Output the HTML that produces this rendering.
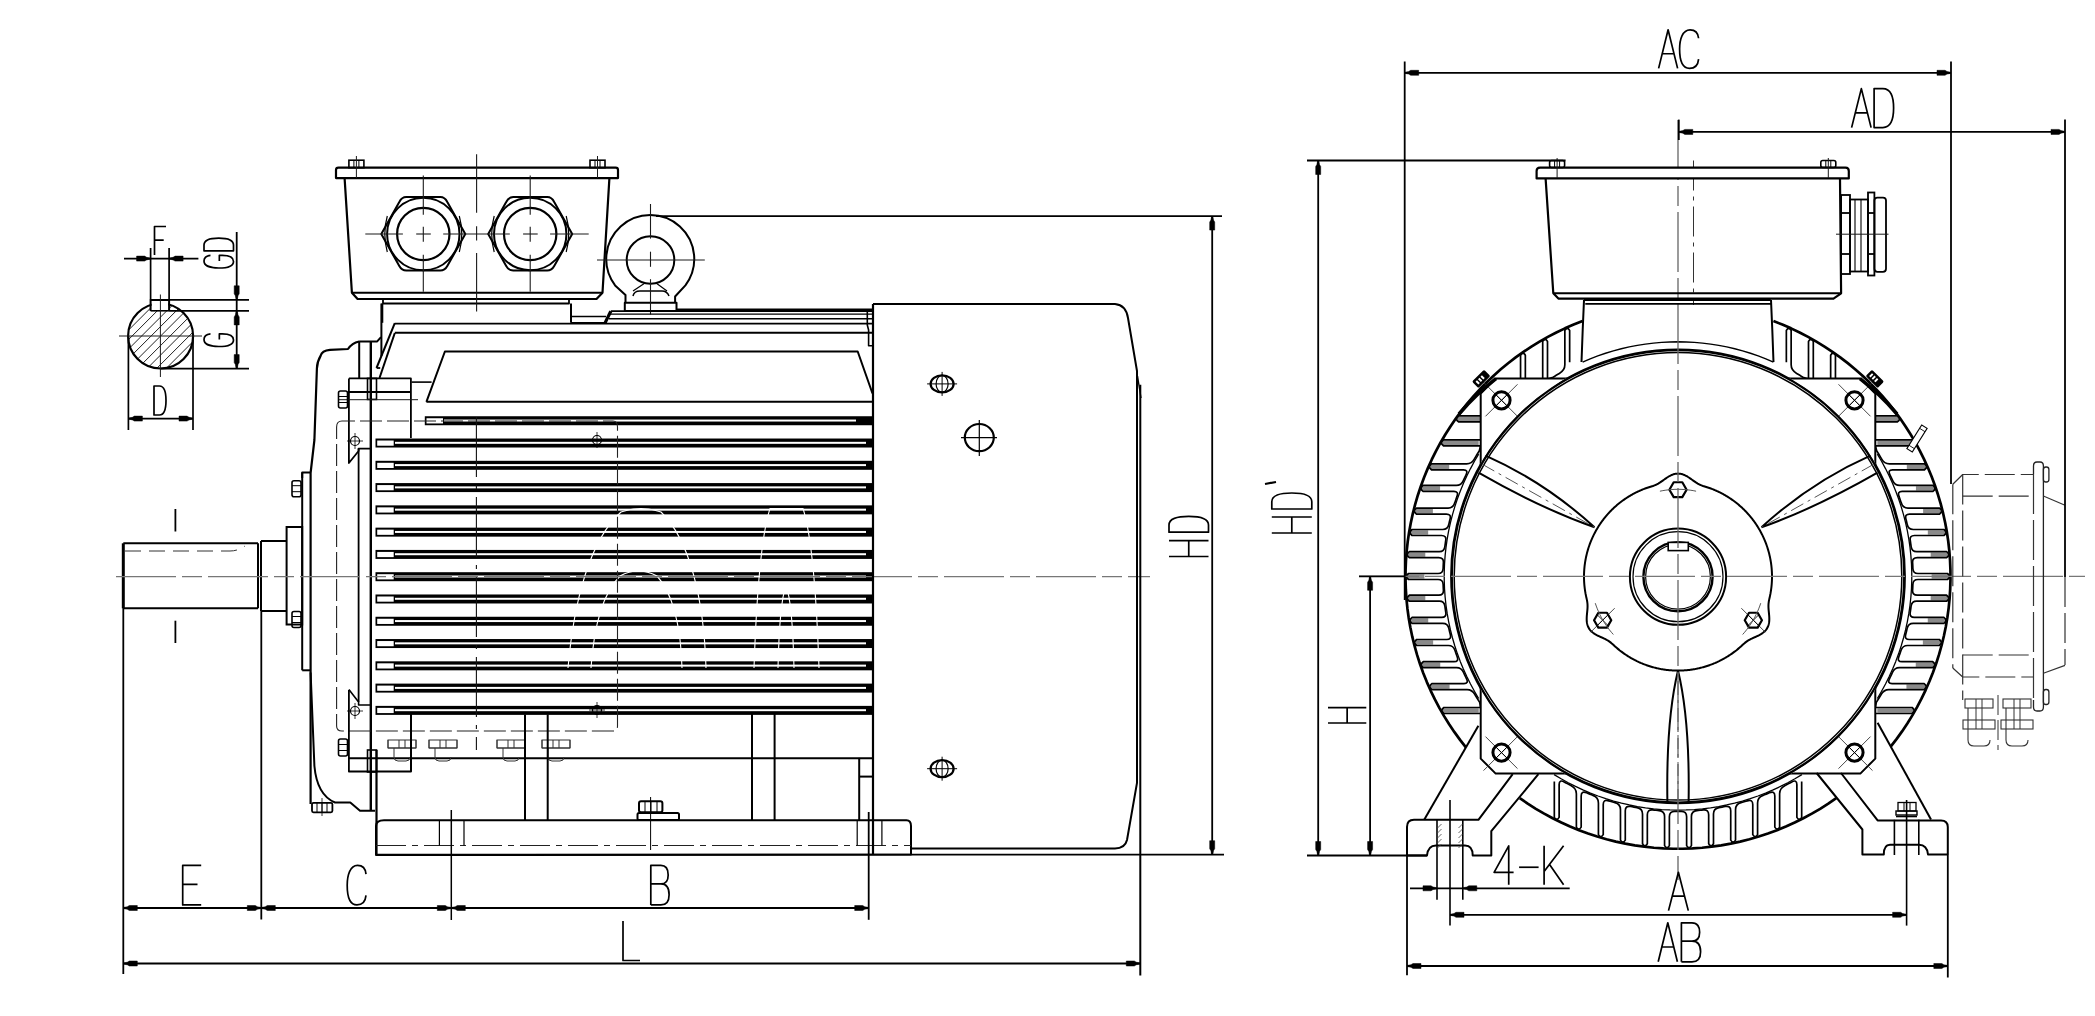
<!DOCTYPE html>
<html><head><meta charset="utf-8"><title>Motor outline drawing</title>
<style>
html,body{margin:0;padding:0;background:#fff;width:2095px;height:1016px;overflow:hidden;font-family:"Liberation Sans",sans-serif;}
svg{display:block;}
</style></head><body>
<svg width="2095" height="1016" viewBox="0 0 2095 1016" shape-rendering="auto"><defs><clipPath id="kc"><circle cx="160.6" cy="336" r="32.5"/></clipPath></defs>
<g clip-path="url(#kc)"><path d="M15.1,396 L135.1,276 M24.6,396 L144.6,276 M34.1,396 L154.1,276 M43.6,396 L163.6,276 M53.1,396 L173.1,276 M62.6,396 L182.6,276 M72.1,396 L192.1,276 M81.6,396 L201.6,276 M91.1,396 L211.1,276 M100.6,396 L220.6,276 M110.1,396 L230.1,276 M119.6,396 L239.6,276 M129.1,396 L249.1,276 M138.6,396 L258.6,276 M148.1,396 L268.1,276 M157.6,396 L277.6,276 M167.1,396 L287.1,276 M176.6,396 L296.6,276 M186.1,396 L306.1,276" stroke="#222" stroke-width="1" fill="none"/></g>
<rect x="150.6" y="299" width="18.6" height="12" fill="#fff"/>
<circle cx="160.6" cy="336" r="32.5" stroke="#000" stroke-width="2.2" fill="none"/>
<rect x="151.6" y="300.5" width="16.6" height="9.5" fill="#fff"/>
<path d="M150.6,311 L150.6,300 L169.1,300 L169.1,311" stroke="#000" stroke-width="2" fill="none" stroke-linejoin="round"/>
<line x1="150.6" y1="310.8" x2="169.1" y2="310.8" stroke="#000" stroke-width="1.6" stroke-linecap="butt"/>
<line x1="150.6" y1="248" x2="150.6" y2="300" stroke="#000" stroke-width="1.7" stroke-linecap="butt"/>
<line x1="169.1" y1="248" x2="169.1" y2="300" stroke="#000" stroke-width="1.7" stroke-linecap="butt"/>
<line x1="124" y1="258.6" x2="198.4" y2="258.6" stroke="#000" stroke-width="1.7" stroke-linecap="butt"/>
<path d="M150.1,258 L150.1,258 L146.6,257.3 L144.6,256.1 L136.6,256.1 L136.6,261.1 L144.6,261.1 L146.6,259.9 L150.1,259.2 L150.1,259.2 Z" stroke="#000" stroke-width="0.5" fill="#000" stroke-linejoin="round"/>
<path d="M169.6,258 L169.6,258 L173.1,257.3 L175.1,256.1 L183.1,256.1 L183.1,261.1 L175.1,261.1 L173.1,259.9 L169.6,259.2 L169.6,259.2 Z" stroke="#000" stroke-width="0.5" fill="#000" stroke-linejoin="round"/>
<g transform="translate(154.5,226.5)" fill="none" stroke="#000" stroke-width="1.7" stroke-linejoin="round"><path d="M1,0 L0,0 L0,1 M0,0.48 L0.8,0.48" transform="translate(0,0) scale(11.5,28.5)" vector-effect="non-scaling-stroke"/></g>
<line x1="150.6" y1="299.8" x2="249" y2="299.8" stroke="#000" stroke-width="1.8" stroke-linecap="butt"/>
<line x1="169.1" y1="310.9" x2="249" y2="310.9" stroke="#000" stroke-width="1.8" stroke-linecap="butt"/>
<line x1="160" y1="368.6" x2="249" y2="368.6" stroke="#000" stroke-width="1.8" stroke-linecap="butt"/>
<line x1="236.7" y1="232" x2="236.7" y2="368.6" stroke="#000" stroke-width="1.8" stroke-linecap="butt"/>
<path d="M236.1,299.3 L236.1,299.3 L235.4,295.8 L234.2,293.8 L234.2,285.8 L239.2,285.8 L239.2,293.8 L238,295.8 L237.3,299.3 L237.3,299.3 Z" stroke="#000" stroke-width="0.5" fill="#000" stroke-linejoin="round"/>
<path d="M236.1,311.4 L236.1,311.4 L235.4,314.9 L234.2,316.9 L234.2,324.9 L239.2,324.9 L239.2,316.9 L238,314.9 L237.3,311.4 L237.3,311.4 Z" stroke="#000" stroke-width="0.5" fill="#000" stroke-linejoin="round"/>
<path d="M236.1,368.1 L236.1,368.1 L235.4,364.6 L234.2,362.6 L234.2,354.6 L239.2,354.6 L239.2,362.6 L238,364.6 L237.3,368.1 L237.3,368.1 Z" stroke="#000" stroke-width="0.5" fill="#000" stroke-linejoin="round"/>
<g transform="translate(204,268) rotate(-90)" fill="none" stroke="#000" stroke-width="1.7" stroke-linejoin="round"><path d="M1,0.22 C0.97,0.06 0.8,0 0.55,0 C0.15,0 0,0.25 0,0.5 C0,0.78 0.15,1 0.52,1 C0.85,1 1,0.85 1,0.62 L1,0.52 L0.55,0.52" transform="translate(0,0) scale(12.7,29.5)" vector-effect="non-scaling-stroke"/><path d="M0,0 L0,1 L0.45,1 C0.85,1 1,0.8 1,0.5 C1,0.2 0.85,0 0.45,0 Z" transform="translate(17.2,0) scale(12.7,29.5)" vector-effect="non-scaling-stroke"/></g>
<g transform="translate(204,346.5) rotate(-90)" fill="none" stroke="#000" stroke-width="1.7" stroke-linejoin="round"><path d="M1,0.22 C0.97,0.06 0.8,0 0.55,0 C0.15,0 0,0.25 0,0.5 C0,0.78 0.15,1 0.52,1 C0.85,1 1,0.85 1,0.62 L1,0.52 L0.55,0.52" transform="translate(0,0) scale(12.7,29.5)" vector-effect="non-scaling-stroke"/></g>
<line x1="128.4" y1="336" x2="128.4" y2="430" stroke="#000" stroke-width="1.7" stroke-linecap="butt"/>
<line x1="193" y1="336" x2="193" y2="430" stroke="#000" stroke-width="1.7" stroke-linecap="butt"/>
<line x1="128.4" y1="418.6" x2="193" y2="418.6" stroke="#000" stroke-width="1.7" stroke-linecap="butt"/>
<path d="M128.9,418 L128.9,418 L132.4,417.3 L134.4,416.1 L142.4,416.1 L142.4,421.1 L134.4,421.1 L132.4,419.9 L128.9,419.2 L128.9,419.2 Z" stroke="#000" stroke-width="0.5" fill="#000" stroke-linejoin="round"/>
<path d="M192.5,418 L192.5,418 L189,417.3 L187,416.1 L179,416.1 L179,421.1 L187,421.1 L189,419.9 L192.5,419.2 L192.5,419.2 Z" stroke="#000" stroke-width="0.5" fill="#000" stroke-linejoin="round"/>
<g transform="translate(154,386)" fill="none" stroke="#000" stroke-width="1.7" stroke-linejoin="round"><path d="M0,0 L0,1 L0.45,1 C0.85,1 1,0.8 1,0.5 C1,0.2 0.85,0 0.45,0 Z" transform="translate(0,0) scale(12,29)" vector-effect="non-scaling-stroke"/></g>
<line x1="119" y1="336" x2="202" y2="336" stroke="#1a1a1a" stroke-width="1" stroke-linecap="butt"/>
<line x1="160.4" y1="294.5" x2="160.4" y2="377" stroke="#1a1a1a" stroke-width="1" stroke-linecap="butt"/>
<path d="M336,178.1 L336,170 Q336,167.7 338.5,167.7 L615.6,167.7 Q618,167.7 618,170 L618,178.1 Z" stroke="#000" stroke-width="2.2" fill="none" stroke-linejoin="round" />
<rect x="348.9" y="160.2" width="15" height="7.5" rx="0" stroke="#000" stroke-width="1.6" fill="none"/>
<line x1="353.9" y1="160.2" x2="353.9" y2="167.7" stroke="#000" stroke-width="1" stroke-linecap="butt"/>
<line x1="358.9" y1="160.2" x2="358.9" y2="167.7" stroke="#000" stroke-width="1" stroke-linecap="butt"/>
<line x1="356.4" y1="156" x2="356.4" y2="178" stroke="#1a1a1a" stroke-width="1" stroke-linecap="butt"/>
<rect x="590" y="160.2" width="15" height="7.5" rx="0" stroke="#000" stroke-width="1.6" fill="none"/>
<line x1="595" y1="160.2" x2="595" y2="167.7" stroke="#000" stroke-width="1" stroke-linecap="butt"/>
<line x1="600" y1="160.2" x2="600" y2="167.7" stroke="#000" stroke-width="1" stroke-linecap="butt"/>
<line x1="597.5" y1="156" x2="597.5" y2="178" stroke="#1a1a1a" stroke-width="1" stroke-linecap="butt"/>
<path d="M344.6,178.1 L351.9,292.7 L357.6,299 L596.5,299 L602.5,292.7 L609.4,178.1" stroke="#000" stroke-width="2.2" fill="none" stroke-linejoin="round"/>
<line x1="351.9" y1="292.7" x2="602.5" y2="292.7" stroke="#000" stroke-width="2" stroke-linecap="butt"/>
<path d="M383,299 L383,303.5 L569,303.5 L569,299" stroke="#000" stroke-width="1.8" fill="none" stroke-linejoin="round"/>
<path d="M382.3,303.5 L382.3,322.8" stroke="#000" stroke-width="2" fill="none" stroke-linejoin="round"/>
<path d="M571,303.5 L571,322.8" stroke="#000" stroke-width="2" fill="none" stroke-linejoin="round"/>
<path d="M381.3,234 L399.3,202 Q401.8,197 406.3,197 L440.3,197 Q444.8,197 447.3,202 L465.3,234 L447.3,266 Q444.8,270.6 440.3,270.6 L406.3,270.6 Q401.8,270.6 399.3,266 Z" stroke="#000" stroke-width="2" fill="none" stroke-linejoin="round" />
<circle cx="423.3" cy="234" r="36.2" stroke="#000" stroke-width="2" fill="none"/>
<circle cx="423.3" cy="234" r="26.2" stroke="#000" stroke-width="2.2" fill="none"/>
<path d="M387.3,216 Q382.3,234 387.3,252" stroke="#000" stroke-width="1.2" fill="none" stroke-linejoin="round" />
<path d="M459.3,216 Q464.3,234 459.3,252" stroke="#000" stroke-width="1.2" fill="none" stroke-linejoin="round" />
<line x1="423.3" y1="175.6" x2="423.3" y2="214.8" stroke="#1a1a1a" stroke-width="1.1" stroke-linecap="butt"/>
<line x1="423.3" y1="226.8" x2="423.3" y2="241.8" stroke="#1a1a1a" stroke-width="1.1" stroke-linecap="butt"/>
<line x1="423.3" y1="254.7" x2="423.3" y2="291.7" stroke="#1a1a1a" stroke-width="1.1" stroke-linecap="butt"/>
<path d="M488.2,234 L506.2,202 Q508.7,197 513.2,197 L547.2,197 Q551.7,197 554.2,202 L572.2,234 L554.2,266 Q551.7,270.6 547.2,270.6 L513.2,270.6 Q508.7,270.6 506.2,266 Z" stroke="#000" stroke-width="2" fill="none" stroke-linejoin="round" />
<circle cx="530.2" cy="234" r="36.2" stroke="#000" stroke-width="2" fill="none"/>
<circle cx="530.2" cy="234" r="26.2" stroke="#000" stroke-width="2.2" fill="none"/>
<path d="M494.2,216 Q489.2,234 494.2,252" stroke="#000" stroke-width="1.2" fill="none" stroke-linejoin="round" />
<path d="M566.2,216 Q571.2,234 566.2,252" stroke="#000" stroke-width="1.2" fill="none" stroke-linejoin="round" />
<line x1="530.2" y1="175.6" x2="530.2" y2="214.8" stroke="#1a1a1a" stroke-width="1.1" stroke-linecap="butt"/>
<line x1="530.2" y1="226.8" x2="530.2" y2="241.8" stroke="#1a1a1a" stroke-width="1.1" stroke-linecap="butt"/>
<line x1="530.2" y1="254.7" x2="530.2" y2="291.7" stroke="#1a1a1a" stroke-width="1.1" stroke-linecap="butt"/>
<line x1="365.3" y1="234" x2="402.9" y2="234" stroke="#1a1a1a" stroke-width="1.1" stroke-linecap="butt"/>
<line x1="416.2" y1="234" x2="430.8" y2="234" stroke="#1a1a1a" stroke-width="1.1" stroke-linecap="butt"/>
<line x1="443.2" y1="234" x2="509.8" y2="234" stroke="#1a1a1a" stroke-width="1.1" stroke-linecap="butt"/>
<line x1="523.1" y1="234" x2="537.7" y2="234" stroke="#1a1a1a" stroke-width="1.1" stroke-linecap="butt"/>
<line x1="550.1" y1="234" x2="588.7" y2="234" stroke="#1a1a1a" stroke-width="1.1" stroke-linecap="butt"/>
<line x1="476.6" y1="154.2" x2="476.6" y2="212.8" stroke="#1a1a1a" stroke-width="1.1" stroke-linecap="butt"/>
<line x1="476.6" y1="226.2" x2="476.6" y2="240.4" stroke="#1a1a1a" stroke-width="1.1" stroke-linecap="butt"/>
<line x1="476.6" y1="252.9" x2="476.6" y2="311.5" stroke="#1a1a1a" stroke-width="1.1" stroke-linecap="butt"/>
<path d="M625.5,302.7 L625.5,295.1 L615.1,285.4 A44,44 0 1 1 685.4,285.4 L675.1,296.5 L675.1,302.7" stroke="#000" stroke-width="2" fill="none" stroke-linejoin="round" />
<circle cx="650.5" cy="260" r="23.8" stroke="#000" stroke-width="2" fill="none"/>
<path d="M624.8,302.7 L676.5,302.7 L676.5,311 L624.8,311 Z" stroke="#000" stroke-width="2" fill="none" stroke-linejoin="round"/>
<path d="M633,296 Q634,291 640,291 L662,291 Q667,291 669,296" stroke="#000" stroke-width="1.5" fill="none" stroke-linejoin="round" />
<path d="M645,283 L633,291 M656,283 L667,291" stroke="#000" stroke-width="1.2" fill="none" stroke-linejoin="round" />
<line x1="597" y1="260" x2="704.8" y2="260" stroke="#1a1a1a" stroke-width="1" stroke-linecap="butt"/>
<line x1="650.5" y1="204" x2="650.5" y2="238.6" stroke="#1a1a1a" stroke-width="1.1" stroke-linecap="butt"/>
<line x1="650.5" y1="251.7" x2="650.5" y2="266.8" stroke="#1a1a1a" stroke-width="1.1" stroke-linecap="butt"/>
<line x1="650.5" y1="279.2" x2="650.5" y2="314.4" stroke="#1a1a1a" stroke-width="1.1" stroke-linecap="butt"/>
<line x1="656" y1="216.1" x2="1222" y2="216.1" stroke="#000" stroke-width="1.8" stroke-linecap="butt"/>
<line x1="677" y1="309.9" x2="873" y2="309.9" stroke="#000" stroke-width="2.8" stroke-linecap="butt"/>
<line x1="610.8" y1="311.1" x2="873" y2="311.1" stroke="#000" stroke-width="1.8" stroke-linecap="butt"/>
<line x1="610" y1="314.2" x2="873" y2="314.2" stroke="#000" stroke-width="1.3" stroke-linecap="butt"/>
<line x1="609" y1="318.8" x2="873" y2="318.8" stroke="#000" stroke-width="1.4" stroke-linecap="butt"/>
<line x1="394.8" y1="323.6" x2="873" y2="323.6" stroke="#000" stroke-width="1.6" stroke-linecap="butt"/>
<line x1="394.8" y1="332.7" x2="873" y2="332.7" stroke="#000" stroke-width="1.9" stroke-linecap="butt"/>
<path d="M867.3,311 L867.3,325 L868.6,330 L868.6,345.8 L873,345.8" stroke="#000" stroke-width="1.6" fill="none" stroke-linejoin="round"/>
<path d="M604.8,323.4 L610.8,311.3" stroke="#000" stroke-width="3.2" fill="none" stroke-linejoin="round"/>
<line x1="571" y1="316.5" x2="606" y2="316.5" stroke="#000" stroke-width="1.6" stroke-linecap="butt"/>
<line x1="571" y1="322.8" x2="607" y2="322.8" stroke="#000" stroke-width="1.6" stroke-linecap="butt"/>
<path d="M394.8,323.2 L376.5,368" stroke="#000" stroke-width="2" fill="none" stroke-linejoin="round"/>
<path d="M394.8,333 L379.5,378" stroke="#000" stroke-width="2" fill="none" stroke-linejoin="round"/>
<path d="M381.4,303.5 L381.4,356" stroke="#000" stroke-width="2" fill="none" stroke-linejoin="round"/>
<line x1="376.7" y1="368" x2="380.2" y2="368" stroke="#000" stroke-width="1.8" stroke-linecap="butt"/>
<path d="M426.4,401.8 L444.9,351.5 L857.7,351.5 L872.5,393.5" stroke="#000" stroke-width="2" fill="none" stroke-linejoin="round"/>
<line x1="426.4" y1="401.8" x2="873" y2="401.8" stroke="#000" stroke-width="2" stroke-linecap="butt"/>
<rect x="375.5" y="438.52" width="497.5" height="9" fill="#000"/>
<rect x="395" y="441.82" width="471" height="2" fill="#fff"/>
<rect x="377.2" y="440.52" width="16.5" height="5.2" fill="#fff"/>
<rect x="375.5" y="460.8" width="497.5" height="9" fill="#000"/>
<rect x="395" y="464.1" width="471" height="2" fill="#fff"/>
<rect x="377.2" y="462.8" width="16.5" height="5.2" fill="#fff"/>
<rect x="375.5" y="483.08" width="497.5" height="9" fill="#000"/>
<rect x="395" y="486.38" width="471" height="2" fill="#fff"/>
<rect x="377.2" y="485.08" width="16.5" height="5.2" fill="#fff"/>
<rect x="375.5" y="505.36" width="497.5" height="9" fill="#000"/>
<rect x="395" y="508.66" width="471" height="2" fill="#fff"/>
<rect x="377.2" y="507.36" width="16.5" height="5.2" fill="#fff"/>
<rect x="375.5" y="527.64" width="497.5" height="9" fill="#000"/>
<rect x="395" y="530.94" width="471" height="2" fill="#fff"/>
<rect x="377.2" y="529.64" width="16.5" height="5.2" fill="#fff"/>
<rect x="375.5" y="549.92" width="497.5" height="9" fill="#000"/>
<rect x="395" y="553.22" width="471" height="2" fill="#fff"/>
<rect x="377.2" y="551.92" width="16.5" height="5.2" fill="#fff"/>
<rect x="375.5" y="572.2" width="497.5" height="9" fill="#000"/>
<rect x="395" y="575.5" width="471" height="2" fill="#fff"/>
<rect x="377.2" y="574.2" width="16.5" height="5.2" fill="#fff"/>
<rect x="375.5" y="594.48" width="497.5" height="9" fill="#000"/>
<rect x="395" y="597.78" width="471" height="2" fill="#fff"/>
<rect x="377.2" y="596.48" width="16.5" height="5.2" fill="#fff"/>
<rect x="375.5" y="616.76" width="497.5" height="9" fill="#000"/>
<rect x="395" y="620.06" width="471" height="2" fill="#fff"/>
<rect x="377.2" y="618.76" width="16.5" height="5.2" fill="#fff"/>
<rect x="375.5" y="639.04" width="497.5" height="9" fill="#000"/>
<rect x="395" y="642.34" width="471" height="2" fill="#fff"/>
<rect x="377.2" y="641.04" width="16.5" height="5.2" fill="#fff"/>
<rect x="375.5" y="661.32" width="497.5" height="9" fill="#000"/>
<rect x="395" y="664.62" width="471" height="2" fill="#fff"/>
<rect x="377.2" y="663.32" width="16.5" height="5.2" fill="#fff"/>
<rect x="375.5" y="683.6" width="497.5" height="9" fill="#000"/>
<rect x="395" y="686.9" width="471" height="2" fill="#fff"/>
<rect x="377.2" y="685.6" width="16.5" height="5.2" fill="#fff"/>
<rect x="375.5" y="705.88" width="497.5" height="9" fill="#000"/>
<rect x="395" y="709.18" width="471" height="2" fill="#fff"/>
<rect x="377.2" y="707.88" width="16.5" height="5.2" fill="#fff"/>
<rect x="424.8" y="416.24" width="448" height="9" fill="#000"/>
<rect x="444" y="419.54" width="412" height="2" fill="#fff"/>
<rect x="426.5" y="418.24" width="16.5" height="5.2" fill="#fff"/>
<line x1="476.4" y1="417" x2="476.4" y2="750" stroke="#111" stroke-width="1.1" stroke-dasharray="60 8 4 8" stroke-linecap="butt"/>
<path d="M568,668 C574,600 590,540 621,512 Q641,505 661,512 C690,540 704,600 706,668" stroke="#fff" stroke-width="1.1" fill="none" stroke-linejoin="round" />
<path d="M591,668 C594,625 604,592 620,576 Q638,566 657,576 C672,592 681,625 682,668" stroke="#fff" stroke-width="1.1" fill="none" stroke-linejoin="round" />
<path d="M754,668 C757,580 763,530 770,508.5 L803,508.5 C810,530 816,580 819,668" stroke="#fff" stroke-width="1.1" fill="none" stroke-linejoin="round" />
<path d="M778,668 C779,625 781,598 786,586 C791,598 793,625 794,668" stroke="#fff" stroke-width="1.1" fill="none" stroke-linejoin="round" />
<line x1="370.8" y1="341" x2="370.8" y2="811" stroke="#000" stroke-width="2.4" stroke-linecap="butt"/>
<line x1="359.2" y1="341.5" x2="359.2" y2="378.4" stroke="#000" stroke-width="2" stroke-linecap="butt"/>
<path d="M359.1,341.5 L377.2,341.4 L381,337.2" stroke="#000" stroke-width="2" fill="none" stroke-linejoin="round" />
<path d="M359.1,341.5 Q352,343 348,349 L330,349.8 Q322,350.5 320.7,355.6 Q317,362 316.9,368.4 L314.4,440 L310.6,473 L310.6,804" stroke="#000" stroke-width="2.2" fill="none" stroke-linejoin="round" />
<path d="M310.6,672.5 L314.4,766 Q317,795 335,802.5 L350.3,802.5 L360,810.8 L375,810.8" stroke="#000" stroke-width="2" fill="none" stroke-linejoin="round" />
<line x1="376.5" y1="750" x2="376.5" y2="855" stroke="#000" stroke-width="2.2" stroke-linecap="butt"/>
<path d="M348.9,378.4 L410.9,378.4 L410.9,438" stroke="#000" stroke-width="1.8" fill="none" stroke-linejoin="round"/>
<path d="M348.9,378.4 L348.9,463 L358.6,451 L358.6,448.6 L371,448.6" stroke="#000" stroke-width="1.8" fill="none" stroke-linejoin="round"/>
<line x1="358.6" y1="448.6" x2="358.6" y2="702" stroke="#000" stroke-width="1.8" stroke-linecap="butt"/>
<rect x="367.5" y="378.4" width="9" height="21" rx="0" stroke="#000" stroke-width="1.6" fill="none"/>
<line x1="349" y1="392" x2="411" y2="392" stroke="#000" stroke-width="1.8" stroke-linecap="butt"/>
<line x1="338" y1="399.7" x2="418" y2="399.7" stroke="#1a1a1a" stroke-width="1" stroke-linecap="butt"/>
<line x1="411.5" y1="382.1" x2="431.6" y2="382.1" stroke="#000" stroke-width="1.6" stroke-linecap="butt"/>
<rect x="338.5" y="391" width="9" height="17" rx="2" stroke="#000" stroke-width="1.6" fill="none"/>
<line x1="338.5" y1="396.5" x2="347.5" y2="396.5" stroke="#000" stroke-width="1" stroke-linecap="butt"/>
<line x1="338.5" y1="402.5" x2="347.5" y2="402.5" stroke="#000" stroke-width="1" stroke-linecap="butt"/>
<rect x="338.5" y="739" width="9" height="17" rx="2" stroke="#000" stroke-width="1.6" fill="none"/>
<line x1="338.5" y1="744.5" x2="347.5" y2="744.5" stroke="#000" stroke-width="1" stroke-linecap="butt"/>
<line x1="338.5" y1="750.5" x2="347.5" y2="750.5" stroke="#000" stroke-width="1" stroke-linecap="butt"/>
<rect x="312" y="802.8" width="20.4" height="9.5" rx="1.5" stroke="#000" stroke-width="1.8" fill="none"/>
<line x1="317" y1="802.8" x2="317" y2="812.3" stroke="#000" stroke-width="1" stroke-linecap="butt"/>
<line x1="322" y1="802.8" x2="322" y2="812.3" stroke="#000" stroke-width="1" stroke-linecap="butt"/>
<line x1="327" y1="802.8" x2="327" y2="812.3" stroke="#000" stroke-width="1" stroke-linecap="butt"/>
<line x1="322" y1="798" x2="322" y2="816" stroke="#000" stroke-width="0.8" stroke-linecap="butt"/>
<circle cx="355" cy="441" r="4.5" stroke="#000" stroke-width="1.2" fill="none"/>
<line x1="347" y1="441" x2="363" y2="441" stroke="#000" stroke-width="0.8" stroke-linecap="butt"/>
<line x1="355" y1="433" x2="355" y2="449" stroke="#000" stroke-width="0.8" stroke-linecap="butt"/>
<circle cx="355" cy="711" r="4.5" stroke="#000" stroke-width="1.2" fill="none"/>
<line x1="347" y1="711" x2="363" y2="711" stroke="#000" stroke-width="0.8" stroke-linecap="butt"/>
<line x1="355" y1="703" x2="355" y2="719" stroke="#000" stroke-width="0.8" stroke-linecap="butt"/>
<circle cx="597" cy="440" r="4.5" stroke="#000" stroke-width="1.2" fill="none"/>
<line x1="589" y1="440" x2="605" y2="440" stroke="#000" stroke-width="0.8" stroke-linecap="butt"/>
<line x1="597" y1="432" x2="597" y2="448" stroke="#000" stroke-width="0.8" stroke-linecap="butt"/>
<circle cx="597" cy="710" r="4.5" stroke="#000" stroke-width="1.2" fill="none"/>
<line x1="589" y1="710" x2="605" y2="710" stroke="#000" stroke-width="0.8" stroke-linecap="butt"/>
<line x1="597" y1="702" x2="597" y2="718" stroke="#000" stroke-width="0.8" stroke-linecap="butt"/>
<path d="M336.6,427 Q336.6,421 342,421 L613,421 Q617.5,421 617.5,427 L617.5,726 Q617.5,731 613,731 L342,731 Q336.6,731 336.6,726 Z" stroke="#222" stroke-width="1.1" fill="none" stroke-dasharray="22 5" stroke-linejoin="round" />
<path d="M348.9,690 L348.9,771.5 L411,771.5 L411,713.9" stroke="#000" stroke-width="1.8" fill="none" stroke-linejoin="round"/>
<path d="M348.9,689.6 L358.6,702 L358.6,705 L371,705" stroke="#000" stroke-width="1.6" fill="none" stroke-linejoin="round"/>
<line x1="349" y1="758.3" x2="873" y2="758.3" stroke="#000" stroke-width="2" stroke-linecap="butt"/>
<rect x="367.5" y="750" width="9" height="22" rx="0" stroke="#000" stroke-width="1.6" fill="none"/>
<path d="M388,740 L388,748 L416,748 L416,740" stroke="#333" stroke-width="1" fill="none" stroke-linejoin="round" />
<rect x="388" y="740" width="28" height="8" rx="0" stroke="#333" stroke-width="1" fill="none"/>
<line x1="399" y1="740" x2="399" y2="748" stroke="#333" stroke-width="1" stroke-linecap="butt"/>
<line x1="405" y1="740" x2="405" y2="748" stroke="#333" stroke-width="1" stroke-linecap="butt"/>
<path d="M394,748 L394,757 Q394,761 398,761 L406,761 Q410,761 410,757" stroke="#333" stroke-width="1" fill="none" stroke-linejoin="round" />
<path d="M429,740 L429,748 L457,748 L457,740" stroke="#333" stroke-width="1" fill="none" stroke-linejoin="round" />
<rect x="429" y="740" width="28" height="8" rx="0" stroke="#333" stroke-width="1" fill="none"/>
<line x1="440" y1="740" x2="440" y2="748" stroke="#333" stroke-width="1" stroke-linecap="butt"/>
<line x1="446" y1="740" x2="446" y2="748" stroke="#333" stroke-width="1" stroke-linecap="butt"/>
<path d="M435,748 L435,757 Q435,761 439,761 L447,761 Q451,761 451,757" stroke="#333" stroke-width="1" fill="none" stroke-linejoin="round" />
<path d="M497,740 L497,748 L525,748 L525,740" stroke="#333" stroke-width="1" fill="none" stroke-linejoin="round" />
<rect x="497" y="740" width="28" height="8" rx="0" stroke="#333" stroke-width="1" fill="none"/>
<line x1="508" y1="740" x2="508" y2="748" stroke="#333" stroke-width="1" stroke-linecap="butt"/>
<line x1="514" y1="740" x2="514" y2="748" stroke="#333" stroke-width="1" stroke-linecap="butt"/>
<path d="M503,748 L503,757 Q503,761 507,761 L515,761 Q519,761 519,757" stroke="#333" stroke-width="1" fill="none" stroke-linejoin="round" />
<path d="M542,740 L542,748 L570,748 L570,740" stroke="#333" stroke-width="1" fill="none" stroke-linejoin="round" />
<rect x="542" y="740" width="28" height="8" rx="0" stroke="#333" stroke-width="1" fill="none"/>
<line x1="553" y1="740" x2="553" y2="748" stroke="#333" stroke-width="1" stroke-linecap="butt"/>
<line x1="559" y1="740" x2="559" y2="748" stroke="#333" stroke-width="1" stroke-linecap="butt"/>
<path d="M548,748 L548,757 Q548,761 552,761 L560,761 Q564,761 564,757" stroke="#333" stroke-width="1" fill="none" stroke-linejoin="round" />
<line x1="123.3" y1="543.3" x2="258" y2="543.3" stroke="#000" stroke-width="2" stroke-linecap="butt"/>
<line x1="123.3" y1="608.3" x2="258" y2="608.3" stroke="#000" stroke-width="2" stroke-linecap="butt"/>
<line x1="123.3" y1="543.3" x2="123.3" y2="608.3" stroke="#000" stroke-width="3" stroke-linecap="butt"/>
<line x1="258" y1="543.3" x2="258" y2="608.3" stroke="#000" stroke-width="2" stroke-linecap="butt"/>
<line x1="261" y1="541" x2="261" y2="611" stroke="#000" stroke-width="2" stroke-linecap="butt"/>
<line x1="261" y1="541" x2="286.6" y2="541" stroke="#000" stroke-width="2" stroke-linecap="butt"/>
<line x1="261" y1="611" x2="286.6" y2="611" stroke="#000" stroke-width="2" stroke-linecap="butt"/>
<path d="M125,551 L230,551 Q238,551 245,546" stroke="#333" stroke-width="1" fill="none" stroke-dasharray="16 8" stroke-linejoin="round" />
<rect x="286.6" y="527" width="15.6" height="97.5" rx="0" stroke="#000" stroke-width="2" fill="none"/>
<path d="M302.2,478 L302.2,472.5 L311,472.5" stroke="#000" stroke-width="2" fill="none" stroke-linejoin="round"/>
<line x1="302.2" y1="472.5" x2="302.2" y2="670.3" stroke="#000" stroke-width="2" stroke-linecap="butt"/>
<line x1="302.2" y1="670.3" x2="311" y2="670.3" stroke="#000" stroke-width="2" stroke-linecap="butt"/>
<rect x="292" y="480.7" width="9" height="16" rx="2" stroke="#000" stroke-width="1.6" fill="none"/>
<line x1="292" y1="485.7" x2="301" y2="485.7" stroke="#000" stroke-width="1" stroke-linecap="butt"/>
<line x1="292" y1="491.7" x2="301" y2="491.7" stroke="#000" stroke-width="1" stroke-linecap="butt"/>
<rect x="292" y="611.5" width="9" height="16" rx="2" stroke="#000" stroke-width="1.6" fill="none"/>
<line x1="292" y1="616.5" x2="301" y2="616.5" stroke="#000" stroke-width="1" stroke-linecap="butt"/>
<line x1="292" y1="622.5" x2="301" y2="622.5" stroke="#000" stroke-width="1" stroke-linecap="butt"/>
<line x1="175.4" y1="509" x2="175.4" y2="531.5" stroke="#000" stroke-width="1.8" stroke-linecap="butt"/>
<line x1="175.4" y1="620.7" x2="175.4" y2="643" stroke="#000" stroke-width="1.8" stroke-linecap="butt"/>
<line x1="116" y1="576.7" x2="1150" y2="576.7" stroke="#777" stroke-width="1.3" stroke-dasharray="60 6 20 6" stroke-linecap="butt"/>
<path d="M376,855 L376,826 Q376,820.2 384,820.2 L906.5,820.2 Q911,820.2 911,826 L911,854.6 Z" stroke="#000" stroke-width="2" fill="none" stroke-linejoin="round" />
<line x1="376" y1="845.5" x2="911" y2="845.5" stroke="#222" stroke-width="1" stroke-dasharray="30 6 6 6" stroke-linecap="butt"/>
<line x1="439.4" y1="820.2" x2="439.4" y2="845.5" stroke="#000" stroke-width="1.2" stroke-linecap="butt"/>
<line x1="464" y1="820.2" x2="464" y2="845.5" stroke="#000" stroke-width="1.2" stroke-linecap="butt"/>
<line x1="857.2" y1="820.2" x2="857.2" y2="845.5" stroke="#000" stroke-width="1.2" stroke-linecap="butt"/>
<line x1="881.9" y1="820.2" x2="881.9" y2="845.5" stroke="#000" stroke-width="1.2" stroke-linecap="butt"/>
<line x1="451.3" y1="810" x2="451.3" y2="920" stroke="#000" stroke-width="1.5" stroke-linecap="butt"/>
<line x1="752" y1="713.6" x2="752" y2="820.2" stroke="#000" stroke-width="2" stroke-linecap="butt"/>
<line x1="774.6" y1="713.6" x2="774.6" y2="820.2" stroke="#000" stroke-width="2" stroke-linecap="butt"/>
<line x1="525" y1="714.4" x2="525" y2="820.2" stroke="#000" stroke-width="2" stroke-linecap="butt"/>
<line x1="547.7" y1="714.4" x2="547.7" y2="820.2" stroke="#000" stroke-width="2" stroke-linecap="butt"/>
<line x1="411" y1="713.9" x2="411" y2="771.5" stroke="#000" stroke-width="2" stroke-linecap="butt"/>
<line x1="859.2" y1="757.9" x2="859.2" y2="820.2" stroke="#000" stroke-width="2" stroke-linecap="butt"/>
<line x1="859.2" y1="776.6" x2="873" y2="776.6" stroke="#000" stroke-width="2" stroke-linecap="butt"/>
<rect x="639" y="801.2" width="23.4" height="11" rx="2" stroke="#000" stroke-width="2" fill="none"/>
<line x1="645" y1="801.2" x2="645" y2="812" stroke="#000" stroke-width="1" stroke-linecap="butt"/>
<line x1="651" y1="801.2" x2="651" y2="812" stroke="#000" stroke-width="1" stroke-linecap="butt"/>
<line x1="657" y1="801.2" x2="657" y2="812" stroke="#000" stroke-width="1" stroke-linecap="butt"/>
<rect x="637.5" y="813" width="41.5" height="7" rx="1.5" stroke="#000" stroke-width="2" fill="none"/>
<line x1="650.6" y1="797" x2="650.6" y2="850" stroke="#000" stroke-width="1" stroke-linecap="butt"/>
<path d="M873,304 L1115,304 Q1126,305 1128,318 L1137,371 L1137,782.8 L1127,840 Q1125,848.4 1115,848.4 L911,848.4" stroke="#000" stroke-width="2" fill="none" stroke-linejoin="round" />
<line x1="873" y1="304" x2="873" y2="855" stroke="#000" stroke-width="2.2" stroke-linecap="butt"/>
<line x1="1140.3" y1="384.7" x2="1140.3" y2="975.5" stroke="#000" stroke-width="2" stroke-linecap="butt"/>
<line x1="1137.5" y1="376" x2="1141" y2="398" stroke="#000" stroke-width="1.4" stroke-linecap="butt"/>
<ellipse cx="942.1" cy="383.9" rx="11.5" ry="8.5" stroke="#000" stroke-width="2.2" fill="none"/>
<ellipse cx="942.1" cy="383.9" rx="6" ry="8.5" stroke="#000" stroke-width="1.2" fill="none"/>
<line x1="927.1" y1="383.9" x2="957.1" y2="383.9" stroke="#000" stroke-width="1" stroke-linecap="butt"/>
<line x1="942.1" y1="371.9" x2="942.1" y2="395.9" stroke="#000" stroke-width="1" stroke-linecap="butt"/>
<ellipse cx="942.1" cy="768.7" rx="11.5" ry="8.5" stroke="#000" stroke-width="2.2" fill="none"/>
<ellipse cx="942.1" cy="768.7" rx="6" ry="8.5" stroke="#000" stroke-width="1.2" fill="none"/>
<line x1="927.1" y1="768.7" x2="957.1" y2="768.7" stroke="#000" stroke-width="1" stroke-linecap="butt"/>
<line x1="942.1" y1="756.7" x2="942.1" y2="780.7" stroke="#000" stroke-width="1" stroke-linecap="butt"/>
<ellipse cx="979.3" cy="437.6" rx="14.5" ry="13.6" stroke="#000" stroke-width="2.2" fill="none"/>
<line x1="961" y1="437.6" x2="997" y2="437.6" stroke="#000" stroke-width="1.2" stroke-linecap="butt"/>
<line x1="979.3" y1="420" x2="979.3" y2="456" stroke="#000" stroke-width="1.2" stroke-linecap="butt"/>
<line x1="376" y1="854.7" x2="1224" y2="854.7" stroke="#000" stroke-width="1.8" stroke-linecap="butt"/>
<line x1="123.3" y1="608" x2="123.3" y2="974" stroke="#000" stroke-width="1.8" stroke-linecap="butt"/>
<line x1="261.3" y1="611" x2="261.3" y2="919.5" stroke="#000" stroke-width="1.8" stroke-linecap="butt"/>
<line x1="868.7" y1="812" x2="868.7" y2="919.8" stroke="#000" stroke-width="1.8" stroke-linecap="butt"/>
<line x1="123.3" y1="908" x2="868.7" y2="908" stroke="#000" stroke-width="1.8" stroke-linecap="butt"/>
<path d="M123.8,907.4 L123.8,907.4 L127.3,906.7 L129.3,905.5 L137.3,905.5 L137.3,910.5 L129.3,910.5 L127.3,909.3 L123.8,908.6 L123.8,908.6 Z" stroke="#000" stroke-width="0.5" fill="#000" stroke-linejoin="round"/>
<path d="M260.8,907.4 L260.8,907.4 L257.3,906.7 L255.3,905.5 L247.3,905.5 L247.3,910.5 L255.3,910.5 L257.3,909.3 L260.8,908.6 L260.8,908.6 Z" stroke="#000" stroke-width="0.5" fill="#000" stroke-linejoin="round"/>
<path d="M261.8,907.4 L261.8,907.4 L265.3,906.7 L267.3,905.5 L275.3,905.5 L275.3,910.5 L267.3,910.5 L265.3,909.3 L261.8,908.6 L261.8,908.6 Z" stroke="#000" stroke-width="0.5" fill="#000" stroke-linejoin="round"/>
<path d="M450.8,907.4 L450.8,907.4 L447.3,906.7 L445.3,905.5 L437.3,905.5 L437.3,910.5 L445.3,910.5 L447.3,909.3 L450.8,908.6 L450.8,908.6 Z" stroke="#000" stroke-width="0.5" fill="#000" stroke-linejoin="round"/>
<path d="M451.8,907.4 L451.8,907.4 L455.3,906.7 L457.3,905.5 L465.3,905.5 L465.3,910.5 L457.3,910.5 L455.3,909.3 L451.8,908.6 L451.8,908.6 Z" stroke="#000" stroke-width="0.5" fill="#000" stroke-linejoin="round"/>
<path d="M868.2,907.4 L868.2,907.4 L864.7,906.7 L862.7,905.5 L854.7,905.5 L854.7,910.5 L862.7,910.5 L864.7,909.3 L868.2,908.6 L868.2,908.6 Z" stroke="#000" stroke-width="0.5" fill="#000" stroke-linejoin="round"/>
<line x1="123.3" y1="963.5" x2="1140.3" y2="963.5" stroke="#000" stroke-width="1.8" stroke-linecap="butt"/>
<path d="M123.8,962.9 L123.8,962.9 L127.3,962.2 L129.3,961 L137.3,961 L137.3,966 L129.3,966 L127.3,964.8 L123.8,964.1 L123.8,964.1 Z" stroke="#000" stroke-width="0.5" fill="#000" stroke-linejoin="round"/>
<path d="M1139.8,962.9 L1139.8,962.9 L1136.3,962.2 L1134.3,961 L1126.3,961 L1126.3,966 L1134.3,966 L1136.3,964.8 L1139.8,964.1 L1139.8,964.1 Z" stroke="#000" stroke-width="0.5" fill="#000" stroke-linejoin="round"/>
<line x1="1212.2" y1="216.1" x2="1212.2" y2="854.7" stroke="#000" stroke-width="1.8" stroke-linecap="butt"/>
<path d="M1211.6,216.6 L1211.6,216.6 L1210.9,220.1 L1209.7,222.1 L1209.7,230.1 L1214.7,230.1 L1214.7,222.1 L1213.5,220.1 L1212.8,216.6 L1212.8,216.6 Z" stroke="#000" stroke-width="0.5" fill="#000" stroke-linejoin="round"/>
<path d="M1211.6,854.2 L1211.6,854.2 L1210.9,850.7 L1209.7,848.7 L1209.7,840.7 L1214.7,840.7 L1214.7,848.7 L1213.5,850.7 L1212.8,854.2 L1212.8,854.2 Z" stroke="#000" stroke-width="0.5" fill="#000" stroke-linejoin="round"/>
<g transform="translate(182.7,865.4)" fill="none" stroke="#000" stroke-width="1.7" stroke-linejoin="round"><path d="M1,0 L0,0 L0,1 L1,1 M0,0.48 L0.8,0.48" transform="translate(0,0) scale(18.5,39.5)" vector-effect="non-scaling-stroke"/></g>
<g transform="translate(347.2,865.4)" fill="none" stroke="#000" stroke-width="1.7" stroke-linejoin="round"><path d="M1,0.22 C0.97,0.06 0.8,0 0.55,0 C0.15,0 0,0.25 0,0.5 C0,0.78 0.15,1 0.52,1 C0.8,1 0.97,0.92 1,0.76" transform="translate(0,0) scale(18.8,39.5)" vector-effect="non-scaling-stroke"/></g>
<g transform="translate(650.8,865.4)" fill="none" stroke="#000" stroke-width="1.7" stroke-linejoin="round"><path d="M0,1 L0,0 L0.55,0 C0.85,0 0.95,0.1 0.95,0.24 C0.95,0.38 0.85,0.47 0.55,0.47 L0,0.47 M0.55,0.47 C0.9,0.47 1,0.6 1,0.74 C1,0.9 0.9,1 0.55,1 L0,1" transform="translate(0,0) scale(18.3,39.5)" vector-effect="non-scaling-stroke"/></g>
<g transform="translate(623,921)" fill="none" stroke="#000" stroke-width="1.7" stroke-linejoin="round"><path d="M0,0 L0,1 L1,1" transform="translate(0,0) scale(17,39.5)" vector-effect="non-scaling-stroke"/></g>
<g transform="translate(1169,556.5) rotate(-90)" fill="none" stroke="#000" stroke-width="1.7" stroke-linejoin="round"><path d="M0,0 L0,1 M1,0 L1,1 M0,0.5 L1,0.5" transform="translate(0,0) scale(15.8,39.5)" vector-effect="non-scaling-stroke"/><path d="M0,0 L0,1 L0.45,1 C0.85,1 1,0.8 1,0.5 C1,0.2 0.85,0 0.45,0 Z" transform="translate(24.3,0) scale(15.8,39.5)" vector-effect="non-scaling-stroke"/></g>
<rect x="1457.56" y="416.7" width="22.63" height="4.4" fill="#8a8a8a"/>
<rect x="1442.44" y="440.6" width="36.23" height="4.4" fill="#8a8a8a"/>
<rect x="1430.47" y="464.6" width="18.72" height="4.4" fill="#8a8a8a"/>
<rect x="1422.07" y="486.2" width="18" height="4.4" fill="#8a8a8a"/>
<rect x="1415.42" y="508.9" width="17.46" height="4.4" fill="#8a8a8a"/>
<rect x="1411.04" y="530.3" width="17.13" height="4.4" fill="#8a8a8a"/>
<rect x="1408.36" y="552.45" width="16.94" height="4.4" fill="#8a8a8a"/>
<rect x="1407.5" y="574.3" width="16.88" height="4.4" fill="#8a8a8a"/>
<rect x="1408.38" y="596" width="16.94" height="4.4" fill="#8a8a8a"/>
<rect x="1411.09" y="618.2" width="17.14" height="4.4" fill="#8a8a8a"/>
<rect x="1415.66" y="640.3" width="17.48" height="4.4" fill="#8a8a8a"/>
<rect x="1422.24" y="662.5" width="18.01" height="4.4" fill="#8a8a8a"/>
<rect x="1430.82" y="684.4" width="18.75" height="4.4" fill="#8a8a8a"/>
<rect x="1442.84" y="708.3" width="35.88" height="4.4" fill="#8a8a8a"/>
<path d="M1480.7,415.9 L1458.56,415.9 Q1454.56,418.9 1458.56,421.9 L1480.7,421.9 M1480.7,439.8 L1443.44,439.8 Q1439.44,442.8 1443.44,445.8 L1480.7,445.8 M1466.68,463.8 L1431.47,463.8 Q1427.47,466.8 1431.47,469.8 L1463.52,469.8 M1456.29,485.4 L1423.07,485.4 Q1419.07,488.4 1423.07,491.4 L1453.87,491.4 M1448.11,508.1 L1416.42,508.1 Q1412.42,511.1 1416.42,514.1 L1446.38,514.1 M1442.71,529.5 L1412.04,529.5 Q1408.04,532.5 1412.04,535.5 L1441.57,535.5 M1439.3,551.65 L1409.36,551.65 Q1405.36,554.65 1409.36,557.65 L1438.74,557.65 M1438.02,573.5 L1408.5,573.5 Q1404.5,576.5 1408.5,579.5 L1438.02,579.5 M1438.76,595.2 L1409.38,595.2 Q1405.38,598.2 1409.38,601.2 L1439.32,601.2 M1441.62,617.4 L1412.09,617.4 Q1408.09,620.4 1412.09,623.4 L1442.77,623.4 M1446.66,639.5 L1416.66,639.5 Q1412.66,642.5 1416.66,645.5 L1448.42,645.5 M1454.07,661.7 L1423.24,661.7 Q1419.24,664.7 1423.24,667.7 L1456.5,667.7 M1463.93,683.6 L1431.82,683.6 Q1427.82,686.6 1431.82,689.6 L1467.12,689.6 M1480.7,707.5 L1443.84,707.5 Q1439.84,710.5 1443.84,713.5 L1480.7,713.5 M1480.7,445.8 L1479.32,450.8 L1479.07,451.2 L1477.94,453 L1476.85,454.8 L1475.77,456.6 L1474.72,458.4 L1474.48,458.8 Q1471.68,463.8 1466.68,463.8 M1463.52,469.8 Q1468.52,469.8 1466.05,474.8 L1465.46,476.04 L1464.73,477.6 L1464.02,479.16 L1463.46,480.4 Q1461.29,485.4 1456.29,485.4 M1453.87,491.4 Q1458.87,491.4 1457,496.4 L1457,496.41 L1456.4,498.08 L1455.82,499.75 L1455.25,501.42 L1454.69,503.09 L1454.69,503.1 Q1453.11,508.1 1448.11,508.1 M1446.38,514.1 Q1451.38,514.1 1450.07,519.1 L1449.78,520.26 L1449.41,521.8 L1449.05,523.34 L1448.78,524.5 Q1447.71,529.5 1442.71,529.5 M1441.57,535.5 Q1446.57,535.5 1445.74,540.5 L1445.52,541.96 L1445.29,543.58 L1445.07,545.19 L1444.88,546.65 Q1444.3,551.65 1439.3,551.65 M1438.74,557.65 Q1443.74,557.65 1443.4,562.65 L1443.32,563.99 L1443.24,565.58 L1443.18,567.16 L1443.13,568.5 Q1443.02,573.5 1438.02,573.5 M1438.02,579.5 Q1443.02,579.5 1443.14,584.5 L1443.19,585.78 L1443.26,587.35 L1443.34,588.92 L1443.41,590.2 Q1443.76,595.2 1438.76,595.2 M1439.32,601.2 Q1444.32,601.2 1444.91,606.2 L1445.1,607.68 L1445.33,609.3 L1445.56,610.92 L1445.79,612.4 Q1446.62,617.4 1441.62,617.4 M1442.77,623.4 Q1447.77,623.4 1448.85,628.4 L1449.18,629.84 L1449.56,631.45 L1449.96,633.06 L1450.32,634.5 Q1451.66,639.5 1446.66,639.5 M1448.42,645.5 Q1453.42,645.5 1455.02,650.5 L1455.52,651.98 L1456.08,653.6 L1456.65,655.22 L1457.18,656.7 Q1459.07,661.7 1454.07,661.7 M1456.5,667.7 Q1461.5,667.7 1463.68,672.7 L1464.3,674.06 L1465.03,675.65 L1465.78,677.24 L1466.44,678.6 Q1468.93,683.6 1463.93,683.6 M1467.12,689.6 Q1472.12,689.6 1474.95,694.6 L1475.16,694.97 L1476.22,696.76 L1477.3,698.55 L1478.4,700.34 L1479.53,702.13 L1479.76,702.5 L1480.7,707.5" stroke="#000" stroke-width="1.7" fill="none" stroke-linejoin="round" />
<rect x="1875.81" y="416.7" width="22.63" height="4.4" fill="#8a8a8a"/>
<rect x="1877.33" y="440.6" width="36.23" height="4.4" fill="#8a8a8a"/>
<rect x="1906.81" y="464.6" width="18.72" height="4.4" fill="#8a8a8a"/>
<rect x="1915.94" y="486.2" width="18" height="4.4" fill="#8a8a8a"/>
<rect x="1923.12" y="508.9" width="17.46" height="4.4" fill="#8a8a8a"/>
<rect x="1927.82" y="530.3" width="17.13" height="4.4" fill="#8a8a8a"/>
<rect x="1930.7" y="552.45" width="16.94" height="4.4" fill="#8a8a8a"/>
<rect x="1931.62" y="574.3" width="16.88" height="4.4" fill="#8a8a8a"/>
<rect x="1930.68" y="596" width="16.94" height="4.4" fill="#8a8a8a"/>
<rect x="1927.77" y="618.2" width="17.14" height="4.4" fill="#8a8a8a"/>
<rect x="1922.85" y="640.3" width="17.48" height="4.4" fill="#8a8a8a"/>
<rect x="1915.75" y="662.5" width="18.01" height="4.4" fill="#8a8a8a"/>
<rect x="1906.43" y="684.4" width="18.75" height="4.4" fill="#8a8a8a"/>
<rect x="1877.29" y="708.3" width="35.88" height="4.4" fill="#8a8a8a"/>
<path d="M1875.3,415.9 L1897.44,415.9 Q1901.44,418.9 1897.44,421.9 L1875.3,421.9 M1875.3,439.8 L1912.56,439.8 Q1916.56,442.8 1912.56,445.8 L1875.3,445.8 M1889.32,463.8 L1924.53,463.8 Q1928.53,466.8 1924.53,469.8 L1892.48,469.8 M1899.71,485.4 L1932.93,485.4 Q1936.93,488.4 1932.93,491.4 L1902.13,491.4 M1907.89,508.1 L1939.58,508.1 Q1943.58,511.1 1939.58,514.1 L1909.62,514.1 M1913.29,529.5 L1943.96,529.5 Q1947.96,532.5 1943.96,535.5 L1914.43,535.5 M1916.7,551.65 L1946.64,551.65 Q1950.64,554.65 1946.64,557.65 L1917.26,557.65 M1917.98,573.5 L1947.5,573.5 Q1951.5,576.5 1947.5,579.5 L1917.98,579.5 M1917.24,595.2 L1946.62,595.2 Q1950.62,598.2 1946.62,601.2 L1916.68,601.2 M1914.38,617.4 L1943.91,617.4 Q1947.91,620.4 1943.91,623.4 L1913.23,623.4 M1909.34,639.5 L1939.34,639.5 Q1943.34,642.5 1939.34,645.5 L1907.58,645.5 M1901.93,661.7 L1932.76,661.7 Q1936.76,664.7 1932.76,667.7 L1899.5,667.7 M1892.07,683.6 L1924.18,683.6 Q1928.18,686.6 1924.18,689.6 L1888.88,689.6 M1875.3,707.5 L1912.16,707.5 Q1916.16,710.5 1912.16,713.5 L1875.3,713.5 M1875.3,445.8 L1876.68,450.8 L1876.93,451.2 L1878.06,453 L1879.15,454.8 L1880.23,456.6 L1881.28,458.4 L1881.52,458.8 Q1884.32,463.8 1889.32,463.8 M1892.48,469.8 Q1887.48,469.8 1889.95,474.8 L1890.54,476.04 L1891.27,477.6 L1891.98,479.16 L1892.54,480.4 Q1894.71,485.4 1899.71,485.4 M1902.13,491.4 Q1897.13,491.4 1899,496.4 L1899,496.41 L1899.6,498.08 L1900.18,499.75 L1900.75,501.42 L1901.31,503.09 L1901.31,503.1 Q1902.89,508.1 1907.89,508.1 M1909.62,514.1 Q1904.62,514.1 1905.93,519.1 L1906.22,520.26 L1906.59,521.8 L1906.95,523.34 L1907.22,524.5 Q1908.29,529.5 1913.29,529.5 M1914.43,535.5 Q1909.43,535.5 1910.26,540.5 L1910.48,541.96 L1910.71,543.58 L1910.93,545.19 L1911.12,546.65 Q1911.7,551.65 1916.7,551.65 M1917.26,557.65 Q1912.26,557.65 1912.6,562.65 L1912.68,563.99 L1912.76,565.58 L1912.82,567.16 L1912.87,568.5 Q1912.98,573.5 1917.98,573.5 M1917.98,579.5 Q1912.98,579.5 1912.86,584.5 L1912.81,585.78 L1912.74,587.35 L1912.66,588.92 L1912.59,590.2 Q1912.24,595.2 1917.24,595.2 M1916.68,601.2 Q1911.68,601.2 1911.09,606.2 L1910.9,607.68 L1910.67,609.3 L1910.44,610.92 L1910.21,612.4 Q1909.38,617.4 1914.38,617.4 M1913.23,623.4 Q1908.23,623.4 1907.15,628.4 L1906.82,629.84 L1906.44,631.45 L1906.04,633.06 L1905.68,634.5 Q1904.34,639.5 1909.34,639.5 M1907.58,645.5 Q1902.58,645.5 1900.98,650.5 L1900.48,651.98 L1899.92,653.6 L1899.35,655.22 L1898.82,656.7 Q1896.93,661.7 1901.93,661.7 M1899.5,667.7 Q1894.5,667.7 1892.32,672.7 L1891.7,674.06 L1890.97,675.65 L1890.22,677.24 L1889.56,678.6 Q1887.07,683.6 1892.07,683.6 M1888.88,689.6 Q1883.88,689.6 1881.05,694.6 L1880.84,694.97 L1879.78,696.76 L1878.7,698.55 L1877.6,700.34 L1876.47,702.13 L1876.24,702.5 L1875.3,707.5" stroke="#000" stroke-width="1.7" fill="none" stroke-linejoin="round" />
<path d="M1554.32,781.62 L1554.32,817.33 Q1556.72,821.33 1559.12,817.33 L1559.12,784.52 M1576.38,793.69 L1576.38,827.09 Q1578.78,831.09 1581.18,827.09 L1581.18,795.93 M1598.42,802.92 L1598.42,834.64 Q1600.83,838.64 1603.23,834.64 L1603.23,804.59 M1620.47,809.65 L1620.47,840.17 Q1622.88,844.17 1625.28,840.17 L1625.28,810.81 M1642.52,814.11 L1642.52,843.79 Q1644.92,847.79 1647.33,843.79 L1647.33,814.79 M1664.57,816.42 L1664.57,845.58 Q1666.97,849.58 1669.38,845.58 L1669.38,816.64 M1686.62,816.64 L1686.62,845.58 Q1689.03,849.58 1691.43,845.58 L1691.43,816.42 M1708.67,814.79 L1708.67,843.79 Q1711.08,847.79 1713.48,843.79 L1713.48,814.11 M1730.72,810.81 L1730.72,840.17 Q1733.12,844.17 1735.53,840.17 L1735.53,809.65 M1752.77,804.59 L1752.77,834.64 Q1755.17,838.64 1757.58,834.64 L1757.58,802.92 M1774.82,795.93 L1774.82,827.09 Q1777.22,831.09 1779.62,827.09 L1779.62,793.69 M1796.88,784.52 L1796.88,817.33 Q1799.28,821.33 1801.68,817.33 L1801.68,781.62 M1559.12,784.52 Q1559.12,779.02 1564.62,782.14 L1566.03,782.91 L1567.75,783.83 L1569.47,784.74 L1570.88,785.46 Q1576.38,788.19 1576.38,793.69 M1581.18,795.93 Q1581.18,790.43 1586.68,792.83 L1588.08,793.41 L1589.8,794.12 L1591.53,794.81 L1592.92,795.36 Q1598.42,797.42 1598.42,802.92 M1603.23,804.59 Q1603.23,799.09 1608.73,800.86 L1610.12,801.28 L1611.85,801.8 L1613.58,802.3 L1614.97,802.69 Q1620.47,804.15 1620.47,809.65 M1625.28,810.81 Q1625.28,805.31 1630.78,806.51 L1632.17,806.79 L1633.9,807.13 L1635.62,807.45 L1637.02,807.7 Q1642.52,808.61 1642.52,814.11 M1647.33,814.79 Q1647.33,809.29 1652.83,809.95 L1654.22,810.09 L1655.95,810.26 L1657.67,810.42 L1659.07,810.54 Q1664.57,810.92 1664.57,816.42 M1669.38,816.64 Q1669.38,811.14 1674.88,811.28 L1676.28,811.29 L1678,811.3 L1679.72,811.29 L1681.12,811.28 Q1686.62,811.14 1686.62,816.64 M1691.43,816.42 Q1691.43,810.92 1696.93,810.54 L1698.33,810.42 L1700.05,810.26 L1701.78,810.09 L1703.17,809.95 Q1708.67,809.29 1708.67,814.79 M1713.48,814.11 Q1713.48,808.61 1718.98,807.7 L1720.38,807.45 L1722.1,807.13 L1723.83,806.79 L1725.22,806.51 Q1730.72,805.31 1730.72,810.81 M1735.53,809.65 Q1735.53,804.15 1741.03,802.69 L1742.42,802.3 L1744.15,801.8 L1745.88,801.28 L1747.27,800.86 Q1752.77,799.09 1752.77,804.59 M1757.58,802.92 Q1757.58,797.42 1763.08,795.36 L1764.47,794.81 L1766.2,794.12 L1767.92,793.41 L1769.32,792.83 Q1774.82,790.43 1774.82,795.93 M1779.62,793.69 Q1779.62,788.19 1785.12,785.46 L1786.53,784.74 L1788.25,783.83 L1789.97,782.91 L1791.38,782.14 Q1796.88,779.02 1796.88,784.52" stroke="#000" stroke-width="1.7" fill="none" stroke-linejoin="round" />
<path d="M1520.55,379 L1520.55,355.21 Q1522.95,351.21 1525.35,355.21 L1525.35,379 M1542.7,379 L1542.7,341.41 Q1545.1,337.41 1547.5,341.41 L1547.5,379 M1564.85,364.83 L1564.85,330.32 Q1567.25,326.32 1569.65,330.32 L1569.65,362.27 M1547.5,379 L1553,377.3 L1554.44,376.41 L1556.17,375.34 L1557.91,374.3 L1559.35,373.45 Q1564.85,370.33 1564.85,364.83" stroke="#000" stroke-width="1.7" fill="none" stroke-linejoin="round" />
<path d="M1786.35,362.27 L1786.35,330.32 Q1788.75,326.32 1791.15,330.32 L1791.15,364.83 M1808.5,379 L1808.5,341.41 Q1810.9,337.41 1813.3,341.41 L1813.3,379 M1830.65,379 L1830.65,355.21 Q1833.05,351.21 1835.45,355.21 L1835.45,379 M1791.15,364.83 Q1791.15,370.33 1796.65,373.45 L1798.09,374.3 L1799.83,375.34 L1801.56,376.41 L1803,377.3 L1808.5,379" stroke="#000" stroke-width="1.7" fill="none" stroke-linejoin="round" />
<path d="M1773.43,321.06 L1782.3,324.55 L1791.04,328.35 L1799.64,332.45 L1808.09,336.86 L1816.38,341.55 L1824.5,346.53 L1832.45,351.8 L1840.2,357.33 L1847.76,363.14 L1855.11,369.2 L1862.24,375.52 L1869.15,382.09 L1875.82,388.89 L1882.25,395.92 L1888.44,403.17 L1894.36,410.64 L1900.02,418.3 L1905.41,426.16 L1910.52,434.2 L1915.35,442.42 L1919.88,450.8 L1924.12,459.34 L1928.06,468.01 L1931.69,476.82 L1935.02,485.75 L1938.03,494.79 L1940.72,503.94 L1943.09,513.17 L1945.13,522.47 L1946.85,531.85 L1948.24,541.27 L1949.3,550.74 L1950.03,560.24 L1950.42,569.77 L1950.48,579.29 L1950.21,588.82 L1949.61,598.33 L1948.67,607.81 L1947.4,617.26 L1945.81,626.65 L1943.88,635.98 L1941.63,645.24 L1939.06,654.42 L1936.17,663.5 L1932.96,672.47 L1929.45,681.33 L1925.62,690.06 L1921.49,698.64 L1917.06,707.08 L1912.35,715.36 L1907.34,723.47 L1902.05,731.4 L1896.49,739.14 L1890.67,746.68" stroke="#000" stroke-width="2.7" fill="none" stroke-linejoin="round"/>
<path d="M1836.24,798.15 L1828.29,803.61 L1820.15,808.79 L1811.83,813.67 L1803.34,818.26 L1794.7,822.55 L1785.91,826.52 L1776.99,830.19 L1767.94,833.53 L1758.78,836.55 L1749.51,839.25 L1740.16,841.62 L1730.73,843.65 L1721.23,845.35 L1711.68,846.71 L1702.09,847.73 L1692.47,848.42 L1682.82,848.76 L1673.18,848.76 L1663.53,848.42 L1653.91,847.73 L1644.32,846.71 L1634.77,845.35 L1625.27,843.65 L1615.84,841.62 L1606.49,839.25 L1597.22,836.55 L1588.06,833.53 L1579.01,830.19 L1570.09,826.52 L1561.3,822.55 L1552.66,818.26 L1544.17,813.67 L1535.85,808.79 L1527.71,803.61 L1519.76,798.15" stroke="#000" stroke-width="2.7" fill="none" stroke-linejoin="round"/>
<path d="M1465.93,747.42 L1460.06,739.89 L1454.47,732.15 L1449.15,724.23 L1444.1,716.12 L1439.35,707.84 L1434.89,699.4 L1430.73,690.81 L1426.87,682.08 L1423.32,673.21 L1420.08,664.23 L1417.16,655.15 L1414.55,645.96 L1412.28,636.69 L1410.32,627.34 L1408.7,617.94 L1407.41,608.48 L1406.45,598.98 L1405.82,589.45 L1405.52,579.91 L1405.56,570.36 L1405.94,560.82 L1406.65,551.3 L1407.69,541.81 L1409.06,532.37 L1410.77,522.97 L1412.8,513.65 L1415.16,504.39 L1417.84,495.23 L1420.84,486.17 L1424.15,477.22 L1427.78,468.38 L1431.71,459.69 L1435.95,451.13 L1440.48,442.73 L1445.31,434.49 L1450.42,426.43 L1455.81,418.55 L1461.47,410.86 L1467.4,403.38 L1473.58,396.11 L1480.02,389.06 L1486.7,382.24 L1493.62,375.65 L1500.76,369.32 L1508.12,363.24 L1515.68,357.42 L1523.45,351.87 L1531.41,346.59 L1539.54,341.6 L1547.85,336.89 L1556.32,332.48 L1564.93,328.36 L1573.69,324.56 L1582.57,321.06" stroke="#000" stroke-width="2.7" fill="none" stroke-linejoin="round"/>
<circle cx="1678" cy="576.3" r="226.5" stroke="#000" stroke-width="2.8" fill="none"/>
<circle cx="1678" cy="576.3" r="223.8" stroke="#000" stroke-width="1.5" fill="none"/>
<path d="M1582.62,362.07 L1590.15,358.88 L1597.8,355.94 L1605.54,353.28 L1613.36,350.88 L1621.27,348.77 L1629.24,346.92 L1637.28,345.36 L1645.36,344.08 L1653.49,343.08 L1661.64,342.37 L1669.82,341.94 L1678,341.8 L1686.18,341.94 L1694.36,342.37 L1702.51,343.08 L1710.64,344.08 L1718.72,345.36 L1726.76,346.92 L1734.73,348.77 L1742.64,350.88 L1750.46,353.28 L1758.2,355.94 L1765.85,358.88 L1773.38,362.07" stroke="#000" stroke-width="1.4" fill="none" stroke-linejoin="round"/>
<path d="M1877.35,454.14 L1881.55,461.29 L1885.5,468.58 L1889.19,476 L1892.62,483.56 L1895.77,491.22 L1898.65,499 L1901.25,506.87 L1903.58,514.84 L1905.61,522.87 L1907.37,530.98 L1908.83,539.14 L1910,547.35 L1910.88,555.6 L1911.47,563.87 L1911.76,572.15 L1911.76,580.45 L1911.47,588.73 L1910.88,597 L1910,605.25 L1908.83,613.46 L1907.37,621.62 L1905.61,629.73 L1903.58,637.76 L1901.25,645.73 L1898.65,653.6 L1895.77,661.38 L1892.62,669.04 L1889.19,676.6 L1885.5,684.02 L1881.55,691.31 L1877.35,698.46" stroke="#000" stroke-width="1.3" fill="none" stroke-linejoin="round"/>
<path d="M1478.65,698.46 L1474.45,691.31 L1470.5,684.02 L1466.81,676.6 L1463.38,669.04 L1460.23,661.38 L1457.35,653.6 L1454.75,645.73 L1452.42,637.76 L1450.39,629.73 L1448.63,621.62 L1447.17,613.46 L1446,605.25 L1445.12,597 L1444.53,588.73 L1444.24,580.45 L1444.24,572.15 L1444.53,563.87 L1445.12,555.6 L1446,547.35 L1447.17,539.14 L1448.63,530.98 L1450.39,522.87 L1452.42,514.84 L1454.75,506.87 L1457.35,499 L1460.23,491.22 L1463.38,483.56 L1466.81,476 L1470.5,468.58 L1474.45,461.29 L1478.65,454.14" stroke="#000" stroke-width="1.3" fill="none" stroke-linejoin="round"/>
<path d="M1801.9,774.57 L1794.9,778.78 L1787.76,782.73 L1780.49,786.44 L1773.1,789.89 L1765.58,793.08 L1757.96,796 L1750.25,798.66 L1742.44,801.04 L1734.56,803.16 L1726.61,804.99 L1718.6,806.55 L1710.54,807.82 L1702.44,808.82 L1694.31,809.53 L1686.16,809.96 L1678,810.1 L1669.84,809.96 L1661.69,809.53 L1653.56,808.82 L1645.46,807.82 L1637.4,806.55 L1629.39,804.99 L1621.44,803.16 L1613.56,801.04 L1605.75,798.66 L1598.04,796 L1590.42,793.08 L1582.9,789.89 L1575.51,786.44 L1568.24,782.73 L1561.1,778.78 L1554.1,774.57" stroke="#000" stroke-width="1.3" fill="none" stroke-linejoin="round"/>
<defs><clipPath id="outbig" clip-rule="evenodd"><path clip-rule="evenodd" d="M1300,250 L2000,250 L2000,900 L1300,900 Z M1450.5,576.3 a227.5,227.5 0 1 0 455,0 a227.5,227.5 0 1 0 -455,0 Z"/></clipPath></defs>
<g clip-path="url(#outbig)">
<path d="M1495.7,378.5 L1860.3,378.5 L1875.3,393.5 L1875.3,758.6 L1860.3,773.6 L1495.7,773.6 L1480.7,758.6 L1480.7,393.5 Z" stroke="#000" stroke-width="2" fill="#fff" stroke-linejoin="round"/>
<line x1="1483.5" y1="382.3" x2="1519.5" y2="418.3" stroke="#333" stroke-width="0.9" stroke-linecap="butt"/>
<line x1="1485.5" y1="416.3" x2="1517.5" y2="384.3" stroke="#333" stroke-width="0.9" stroke-linecap="butt"/>
<line x1="1836.5" y1="418.3" x2="1872.5" y2="382.3" stroke="#333" stroke-width="0.9" stroke-linecap="butt"/>
<line x1="1838.5" y1="384.3" x2="1870.5" y2="416.3" stroke="#333" stroke-width="0.9" stroke-linecap="butt"/>
<line x1="1483.5" y1="770.6" x2="1519.5" y2="734.6" stroke="#333" stroke-width="0.9" stroke-linecap="butt"/>
<line x1="1485.5" y1="736.6" x2="1517.5" y2="768.6" stroke="#333" stroke-width="0.9" stroke-linecap="butt"/>
<line x1="1836.5" y1="734.6" x2="1872.5" y2="770.6" stroke="#333" stroke-width="0.9" stroke-linecap="butt"/>
<line x1="1838.5" y1="768.6" x2="1870.5" y2="736.6" stroke="#333" stroke-width="0.9" stroke-linecap="butt"/>
</g>
<circle cx="1501.5" cy="400.3" r="8.6" stroke="#000" stroke-width="3" fill="none"/>
<line x1="1496" y1="394.8" x2="1507" y2="405.8" stroke="#000" stroke-width="1" stroke-linecap="butt"/>
<line x1="1496" y1="405.8" x2="1507" y2="394.8" stroke="#000" stroke-width="1" stroke-linecap="butt"/>
<circle cx="1854.5" cy="400.3" r="8.6" stroke="#000" stroke-width="3" fill="none"/>
<line x1="1849" y1="394.8" x2="1860" y2="405.8" stroke="#000" stroke-width="1" stroke-linecap="butt"/>
<line x1="1849" y1="405.8" x2="1860" y2="394.8" stroke="#000" stroke-width="1" stroke-linecap="butt"/>
<circle cx="1501.5" cy="752.6" r="8.6" stroke="#000" stroke-width="3" fill="none"/>
<line x1="1496" y1="747.1" x2="1507" y2="758.1" stroke="#000" stroke-width="1" stroke-linecap="butt"/>
<line x1="1496" y1="758.1" x2="1507" y2="747.1" stroke="#000" stroke-width="1" stroke-linecap="butt"/>
<circle cx="1854.5" cy="752.6" r="8.6" stroke="#000" stroke-width="3" fill="none"/>
<line x1="1849" y1="747.1" x2="1860" y2="758.1" stroke="#000" stroke-width="1" stroke-linecap="butt"/>
<line x1="1849" y1="758.1" x2="1860" y2="747.1" stroke="#000" stroke-width="1" stroke-linecap="butt"/>
<path d="M1459,414 Q1476,394 1496,378.6" stroke="#000" stroke-width="3.6" fill="none" stroke-linejoin="round" />
<path d="M1897,414 Q1880,394 1860,378.6" stroke="#000" stroke-width="3.6" fill="none" stroke-linejoin="round" />
<g transform="translate(1481.2,378.8) rotate(-45)"><rect x="-8.5" y="-4.5" width="17" height="9" rx="1.5" fill="#000"/><rect x="-6" y="-2" width="2" height="4" fill="#fff"/><rect x="-2.5" y="-2" width="2" height="4" fill="#fff"/><rect x="1" y="-2" width="2" height="4" fill="#fff"/></g>
<g transform="translate(1874.8,378.8) rotate(45)"><rect x="-8.5" y="-4.5" width="17" height="9" rx="1.5" fill="#000"/><rect x="-6" y="-2" width="2" height="4" fill="#fff"/><rect x="-2.5" y="-2" width="2" height="4" fill="#fff"/><rect x="1" y="-2" width="2" height="4" fill="#fff"/></g>
<path d="M1485.6,455.6 Q1545,482 1594.5,527.3 M1478.5,472.7 Q1540,508 1594.5,527.3" stroke="#000" stroke-width="2" fill="none" stroke-linejoin="round" />
<line x1="1482.05" y1="464.15" x2="1594.5" y2="527.3" stroke="#555" stroke-width="1" stroke-dasharray="14 5 3 5" stroke-linecap="butt"/>
<path d="M1870.4,455.6 Q1811,482 1761.5,527.3 M1877.5,472.7 Q1816,508 1761.5,527.3" stroke="#000" stroke-width="2" fill="none" stroke-linejoin="round" />
<line x1="1873.95" y1="464.15" x2="1761.5" y2="527.3" stroke="#555" stroke-width="1" stroke-dasharray="14 5 3 5" stroke-linecap="butt"/>
<path d="M1667.4,803 Q1666,720 1678,670.5 M1688.6,803 Q1690,720 1678,670.5" stroke="#000" stroke-width="2" fill="none" stroke-linejoin="round" />
<line x1="1678" y1="803" x2="1678" y2="670.5" stroke="#555" stroke-width="1" stroke-dasharray="14 5 3 5" stroke-linecap="butt"/>
<path d="M1772,576.6 L1772,577.42 L1771.99,578.24 L1771.97,579.06 L1771.94,579.88 L1771.91,580.7 L1771.87,581.52 L1771.82,582.34 L1771.77,583.16 L1771.71,583.98 L1771.64,584.79 L1771.57,585.61 L1771.49,586.43 L1771.4,587.24 L1771.3,588.06 L1771.2,588.87 L1771.09,589.68 L1770.97,590.49 L1770.84,591.3 L1770.71,592.11 L1770.57,592.92 L1770.43,593.73 L1770.27,594.54 L1770.11,595.34 L1769.95,596.14 L1769.77,596.95 L1769.59,597.75 L1769.41,598.54 L1769.23,599.35 L1769.06,600.15 L1768.9,600.96 L1768.77,601.77 L1768.66,602.6 L1768.57,603.43 L1768.5,604.27 L1768.46,605.12 L1768.45,605.99 L1768.45,606.87 L1768.48,607.76 L1768.53,608.66 L1768.6,609.57 L1768.68,610.5 L1768.77,611.44 L1768.86,612.39 L1768.96,613.35 L1769.05,614.31 L1769.14,615.28 L1769.21,616.26 L1769.27,617.23 L1769.3,618.21 L1769.31,619.18 L1769.29,620.14 L1769.23,621.1 L1769.14,622.04 L1769,622.97 L1768.82,623.88 L1768.6,624.77 L1768.32,625.64 L1768,626.49 L1767.62,627.31 L1767.2,628.1 L1766.73,628.86 L1766.2,629.6 L1765.63,630.3 L1765.02,630.97 L1764.36,631.61 L1763.66,632.23 L1762.92,632.81 L1762.15,633.36 L1761.35,633.89 L1760.53,634.39 L1759.68,634.86 L1758.82,635.32 L1757.95,635.76 L1757.07,636.18 L1756.19,636.59 L1755.3,637 L1754.43,637.39 L1753.56,637.78 L1752.7,638.18 L1751.86,638.57 L1751.03,638.97 L1750.22,639.38 L1749.44,639.8 L1748.67,640.24 L1747.93,640.68 L1747.21,641.14 L1746.52,641.62 L1745.84,642.11 L1745.18,642.62 L1744.55,643.15 L1743.92,643.68 L1743.31,644.23 L1742.71,644.79 L1742.11,645.35 L1741.51,645.9 L1740.9,646.46 L1740.29,647 L1739.67,647.54 L1739.05,648.08 L1738.42,648.61 L1737.79,649.13 L1737.16,649.65 L1736.52,650.17 L1735.87,650.67 L1735.22,651.18 L1734.57,651.67 L1733.91,652.16 L1733.25,652.65 L1732.59,653.13 L1731.92,653.6 L1731.24,654.07 L1730.56,654.53 L1729.88,654.99 L1729.2,655.44 L1728.51,655.88 L1727.81,656.32 L1727.11,656.75 L1726.41,657.17 L1725.71,657.59 L1725,658.01 L1724.29,658.41 L1723.57,658.81 L1722.85,659.21 L1722.13,659.6 L1721.4,659.98 L1720.68,660.35 L1719.94,660.72 L1719.21,661.09 L1718.47,661.44 L1717.73,661.79 L1716.98,662.14 L1716.23,662.47 L1715.48,662.8 L1714.73,663.13 L1713.97,663.44 L1713.21,663.76 L1712.45,664.06 L1711.69,664.36 L1710.92,664.65 L1710.15,664.93 L1709.38,665.21 L1708.6,665.48 L1707.83,665.74 L1707.05,666 L1706.27,666.25 L1705.48,666.49 L1704.7,666.73 L1703.91,666.96 L1703.12,667.18 L1702.33,667.4 L1701.54,667.61 L1700.74,667.81 L1699.94,668 L1699.15,668.19 L1698.35,668.37 L1697.54,668.55 L1696.74,668.71 L1695.94,668.87 L1695.13,669.03 L1694.32,669.17 L1693.51,669.31 L1692.7,669.44 L1691.89,669.57 L1691.08,669.69 L1690.27,669.8 L1689.46,669.9 L1688.64,670 L1687.83,670.09 L1687.01,670.17 L1686.19,670.24 L1685.38,670.31 L1684.56,670.37 L1683.74,670.42 L1682.92,670.47 L1682.1,670.51 L1681.28,670.54 L1680.46,670.57 L1679.64,670.59 L1678.82,670.6 L1678,670.6 L1677.18,670.6 L1676.36,670.59 L1675.54,670.57 L1674.72,670.54 L1673.9,670.51 L1673.08,670.47 L1672.26,670.42 L1671.44,670.37 L1670.62,670.31 L1669.81,670.24 L1668.99,670.17 L1668.17,670.09 L1667.36,670 L1666.54,669.9 L1665.73,669.8 L1664.92,669.69 L1664.11,669.57 L1663.3,669.44 L1662.49,669.31 L1661.68,669.17 L1660.87,669.03 L1660.06,668.87 L1659.26,668.71 L1658.46,668.55 L1657.65,668.37 L1656.85,668.19 L1656.06,668 L1655.26,667.81 L1654.46,667.61 L1653.67,667.4 L1652.88,667.18 L1652.09,666.96 L1651.3,666.73 L1650.52,666.49 L1649.73,666.25 L1648.95,666 L1648.17,665.74 L1647.4,665.48 L1646.62,665.21 L1645.85,664.93 L1645.08,664.65 L1644.31,664.36 L1643.55,664.06 L1642.79,663.76 L1642.03,663.44 L1641.27,663.13 L1640.52,662.8 L1639.77,662.47 L1639.02,662.14 L1638.27,661.79 L1637.53,661.44 L1636.79,661.09 L1636.06,660.72 L1635.32,660.35 L1634.6,659.98 L1633.87,659.6 L1633.15,659.21 L1632.43,658.81 L1631.71,658.41 L1631,658.01 L1630.29,657.59 L1629.59,657.17 L1628.89,656.75 L1628.19,656.32 L1627.49,655.88 L1626.8,655.44 L1626.12,654.99 L1625.44,654.53 L1624.76,654.07 L1624.08,653.6 L1623.41,653.13 L1622.75,652.65 L1622.09,652.16 L1621.43,651.67 L1620.78,651.18 L1620.13,650.67 L1619.48,650.17 L1618.84,649.65 L1618.21,649.13 L1617.58,648.61 L1616.95,648.08 L1616.33,647.54 L1615.71,647 L1615.1,646.46 L1614.49,645.9 L1613.89,645.35 L1613.29,644.79 L1612.69,644.23 L1612.08,643.68 L1611.45,643.15 L1610.82,642.62 L1610.16,642.11 L1609.48,641.62 L1608.79,641.14 L1608.07,640.68 L1607.33,640.24 L1606.56,639.8 L1605.78,639.38 L1604.97,638.97 L1604.14,638.57 L1603.3,638.18 L1602.44,637.78 L1601.57,637.39 L1600.7,637 L1599.81,636.59 L1598.93,636.18 L1598.05,635.76 L1597.18,635.32 L1596.32,634.86 L1595.47,634.39 L1594.65,633.89 L1593.85,633.36 L1593.08,632.81 L1592.34,632.23 L1591.64,631.61 L1590.98,630.97 L1590.37,630.3 L1589.8,629.6 L1589.27,628.86 L1588.8,628.1 L1588.38,627.31 L1588,626.49 L1587.68,625.64 L1587.4,624.77 L1587.18,623.88 L1587,622.97 L1586.86,622.04 L1586.77,621.1 L1586.71,620.14 L1586.69,619.18 L1586.7,618.21 L1586.73,617.23 L1586.79,616.26 L1586.86,615.28 L1586.95,614.31 L1587.04,613.35 L1587.14,612.39 L1587.23,611.44 L1587.32,610.5 L1587.4,609.57 L1587.47,608.66 L1587.52,607.76 L1587.55,606.87 L1587.55,605.99 L1587.54,605.12 L1587.5,604.27 L1587.43,603.43 L1587.34,602.6 L1587.23,601.77 L1587.1,600.96 L1586.94,600.15 L1586.77,599.35 L1586.59,598.54 L1586.41,597.75 L1586.23,596.95 L1586.05,596.14 L1585.89,595.34 L1585.73,594.54 L1585.57,593.73 L1585.43,592.92 L1585.29,592.11 L1585.16,591.3 L1585.03,590.49 L1584.91,589.68 L1584.8,588.87 L1584.7,588.06 L1584.6,587.24 L1584.51,586.43 L1584.43,585.61 L1584.36,584.79 L1584.29,583.98 L1584.23,583.16 L1584.18,582.34 L1584.13,581.52 L1584.09,580.7 L1584.06,579.88 L1584.03,579.06 L1584.01,578.24 L1584,577.42 L1584,576.6 L1584,575.78 L1584.01,574.96 L1584.03,574.14 L1584.06,573.32 L1584.09,572.5 L1584.13,571.68 L1584.18,570.86 L1584.23,570.04 L1584.29,569.22 L1584.36,568.41 L1584.43,567.59 L1584.51,566.77 L1584.6,565.96 L1584.7,565.14 L1584.8,564.33 L1584.91,563.52 L1585.03,562.71 L1585.16,561.9 L1585.29,561.09 L1585.43,560.28 L1585.57,559.47 L1585.73,558.66 L1585.89,557.86 L1586.05,557.06 L1586.23,556.25 L1586.41,555.45 L1586.6,554.66 L1586.79,553.86 L1586.99,553.06 L1587.2,552.27 L1587.42,551.48 L1587.64,550.69 L1587.87,549.9 L1588.11,549.12 L1588.35,548.33 L1588.6,547.55 L1588.86,546.77 L1589.12,546 L1589.39,545.22 L1589.67,544.45 L1589.95,543.68 L1590.24,542.91 L1590.54,542.15 L1590.84,541.39 L1591.16,540.63 L1591.47,539.87 L1591.8,539.12 L1592.13,538.37 L1592.46,537.62 L1592.81,536.87 L1593.16,536.13 L1593.51,535.39 L1593.88,534.66 L1594.25,533.92 L1594.62,533.2 L1595,532.47 L1595.39,531.75 L1595.79,531.03 L1596.19,530.31 L1596.59,529.6 L1597.01,528.89 L1597.43,528.19 L1597.85,527.49 L1598.28,526.79 L1598.72,526.09 L1599.16,525.4 L1599.61,524.72 L1600.07,524.04 L1600.53,523.36 L1601,522.68 L1601.47,522.01 L1601.95,521.35 L1602.44,520.69 L1602.93,520.03 L1603.42,519.38 L1603.93,518.73 L1604.43,518.08 L1604.95,517.44 L1605.47,516.81 L1605.99,516.18 L1606.52,515.55 L1607.06,514.93 L1607.6,514.31 L1608.14,513.7 L1608.7,513.09 L1609.25,512.49 L1609.81,511.89 L1610.38,511.3 L1610.95,510.71 L1611.53,510.13 L1612.11,509.55 L1612.7,508.98 L1613.29,508.41 L1613.89,507.85 L1614.49,507.3 L1615.1,506.74 L1615.71,506.2 L1616.33,505.66 L1616.95,505.12 L1617.58,504.59 L1618.21,504.07 L1618.84,503.55 L1619.48,503.03 L1620.13,502.53 L1620.78,502.02 L1621.43,501.53 L1622.09,501.04 L1622.75,500.55 L1623.41,500.07 L1624.08,499.6 L1624.76,499.13 L1625.44,498.67 L1626.12,498.21 L1626.8,497.76 L1627.49,497.32 L1628.19,496.88 L1628.89,496.45 L1629.59,496.03 L1630.29,495.61 L1631,495.19 L1631.71,494.79 L1632.43,494.39 L1633.15,493.99 L1633.87,493.6 L1634.6,493.22 L1635.32,492.85 L1636.06,492.48 L1636.79,492.11 L1637.53,491.76 L1638.27,491.41 L1639.02,491.06 L1639.77,490.73 L1640.52,490.4 L1641.27,490.07 L1642.03,489.76 L1642.79,489.44 L1643.55,489.14 L1644.31,488.84 L1645.08,488.55 L1645.85,488.27 L1646.62,487.99 L1647.4,487.72 L1648.17,487.46 L1648.95,487.2 L1649.73,486.95 L1650.52,486.71 L1651.3,486.47 L1652.09,486.22 L1652.87,485.97 L1653.64,485.7 L1654.42,485.41 L1655.18,485.09 L1655.95,484.75 L1656.71,484.39 L1657.47,484 L1658.23,483.58 L1658.98,483.13 L1659.74,482.66 L1660.5,482.17 L1661.26,481.65 L1662.02,481.12 L1662.79,480.57 L1663.57,480.02 L1664.35,479.46 L1665.14,478.89 L1665.93,478.33 L1666.74,477.78 L1667.56,477.24 L1668.38,476.73 L1669.22,476.24 L1670.06,475.77 L1670.92,475.34 L1671.78,474.95 L1672.65,474.61 L1673.53,474.31 L1674.42,474.06 L1675.31,473.86 L1676.2,473.72 L1677.1,473.63 L1678,473.6 L1678.9,473.63 L1679.8,473.72 L1680.69,473.86 L1681.58,474.06 L1682.47,474.31 L1683.35,474.61 L1684.22,474.95 L1685.08,475.34 L1685.94,475.77 L1686.78,476.24 L1687.62,476.73 L1688.44,477.24 L1689.26,477.78 L1690.07,478.33 L1690.86,478.89 L1691.65,479.46 L1692.43,480.02 L1693.21,480.57 L1693.98,481.12 L1694.74,481.65 L1695.5,482.17 L1696.26,482.66 L1697.02,483.13 L1697.77,483.58 L1698.53,484 L1699.29,484.39 L1700.05,484.75 L1700.82,485.09 L1701.58,485.41 L1702.36,485.7 L1703.13,485.97 L1703.91,486.22 L1704.7,486.47 L1705.48,486.71 L1706.27,486.95 L1707.05,487.2 L1707.83,487.46 L1708.6,487.72 L1709.38,487.99 L1710.15,488.27 L1710.92,488.55 L1711.69,488.84 L1712.45,489.14 L1713.21,489.44 L1713.97,489.76 L1714.73,490.07 L1715.48,490.4 L1716.23,490.73 L1716.98,491.06 L1717.73,491.41 L1718.47,491.76 L1719.21,492.11 L1719.94,492.48 L1720.68,492.85 L1721.4,493.22 L1722.13,493.6 L1722.85,493.99 L1723.57,494.39 L1724.29,494.79 L1725,495.19 L1725.71,495.61 L1726.41,496.03 L1727.11,496.45 L1727.81,496.88 L1728.51,497.32 L1729.2,497.76 L1729.88,498.21 L1730.56,498.67 L1731.24,499.13 L1731.92,499.6 L1732.59,500.07 L1733.25,500.55 L1733.91,501.04 L1734.57,501.53 L1735.22,502.02 L1735.87,502.53 L1736.52,503.03 L1737.16,503.55 L1737.79,504.07 L1738.42,504.59 L1739.05,505.12 L1739.67,505.66 L1740.29,506.2 L1740.9,506.74 L1741.51,507.3 L1742.11,507.85 L1742.71,508.41 L1743.3,508.98 L1743.89,509.55 L1744.47,510.13 L1745.05,510.71 L1745.62,511.3 L1746.19,511.89 L1746.75,512.49 L1747.3,513.09 L1747.86,513.7 L1748.4,514.31 L1748.94,514.93 L1749.48,515.55 L1750.01,516.18 L1750.53,516.81 L1751.05,517.44 L1751.57,518.08 L1752.07,518.73 L1752.58,519.38 L1753.07,520.03 L1753.56,520.69 L1754.05,521.35 L1754.53,522.01 L1755,522.68 L1755.47,523.36 L1755.93,524.04 L1756.39,524.72 L1756.84,525.4 L1757.28,526.09 L1757.72,526.79 L1758.15,527.49 L1758.57,528.19 L1758.99,528.89 L1759.41,529.6 L1759.81,530.31 L1760.21,531.03 L1760.61,531.75 L1761,532.47 L1761.38,533.2 L1761.75,533.92 L1762.12,534.66 L1762.49,535.39 L1762.84,536.13 L1763.19,536.87 L1763.54,537.62 L1763.87,538.37 L1764.2,539.12 L1764.53,539.87 L1764.84,540.63 L1765.16,541.39 L1765.46,542.15 L1765.76,542.91 L1766.05,543.68 L1766.33,544.45 L1766.61,545.22 L1766.88,546 L1767.14,546.77 L1767.4,547.55 L1767.65,548.33 L1767.89,549.12 L1768.13,549.9 L1768.36,550.69 L1768.58,551.48 L1768.8,552.27 L1769.01,553.06 L1769.21,553.86 L1769.4,554.66 L1769.59,555.45 L1769.77,556.25 L1769.95,557.06 L1770.11,557.86 L1770.27,558.66 L1770.43,559.47 L1770.57,560.28 L1770.71,561.09 L1770.84,561.9 L1770.97,562.71 L1771.09,563.52 L1771.2,564.33 L1771.3,565.14 L1771.4,565.96 L1771.49,566.77 L1771.57,567.59 L1771.64,568.41 L1771.71,569.22 L1771.77,570.04 L1771.82,570.86 L1771.87,571.68 L1771.91,572.5 L1771.94,573.32 L1771.97,574.14 L1771.99,574.96 L1772,575.78 L1772,576.6 Z" stroke="#000" stroke-width="2" fill="#fff" stroke-linejoin="round"/>
<circle cx="1678" cy="576.7" r="48.1" stroke="#000" stroke-width="2" fill="none"/>
<circle cx="1678" cy="576.7" r="45" stroke="#000" stroke-width="1.2" fill="none"/>
<circle cx="1678" cy="576.7" r="34.6" stroke="#000" stroke-width="2.4" fill="none"/>
<circle cx="1678" cy="576.7" r="32.4" stroke="#000" stroke-width="1.2" fill="none"/>
<rect x="1668.2" y="542.4" width="20.1" height="8.2" rx="0" stroke="#000" stroke-width="1.6" fill="#fff"/>
<path d="M1686.6,489.7 L1682.3,497.15 L1673.7,497.15 L1669.4,489.7 L1673.7,482.25 L1682.3,482.25 Z" stroke="#000" stroke-width="2.2" fill="none" stroke-linejoin="round"/>
<path d="M1659.91,491.2 L1662.89,490.62 L1665.89,490.15 L1668.91,489.78 L1671.93,489.51 L1674.96,489.35 L1678,489.3 L1681.04,489.35 L1684.07,489.51 L1687.09,489.78 L1690.11,490.15 L1693.11,490.62 L1696.09,491.2" stroke="#555" stroke-width="1" fill="none" stroke-linejoin="round"/>
<path d="M1761.94,620.2 L1757.64,627.65 L1749.04,627.65 L1744.74,620.2 L1749.04,612.75 L1757.64,612.75 Z" stroke="#000" stroke-width="2.2" fill="none" stroke-linejoin="round"/>
<line x1="1741.34" y1="608.2" x2="1765.34" y2="632.2" stroke="#333" stroke-width="0.9" stroke-linecap="butt"/>
<line x1="1747.34" y1="614.2" x2="1759.34" y2="626.2" stroke="#000" stroke-width="0.9" stroke-linecap="butt"/>
<line x1="1747.34" y1="626.2" x2="1759.34" y2="614.2" stroke="#000" stroke-width="0.9" stroke-linecap="butt"/>
<path d="M1760.74,603.18 L1759.75,606.06 L1758.66,608.89 L1757.48,611.69 L1756.2,614.44 L1754.82,617.14 L1753.34,619.8 L1751.78,622.4 L1750.13,624.95 L1748.38,627.44 L1746.56,629.86 L1744.65,632.22 L1742.65,634.51" stroke="#555" stroke-width="1" fill="none" stroke-linejoin="round"/>
<path d="M1611.26,620.2 L1606.96,627.65 L1598.36,627.65 L1594.06,620.2 L1598.36,612.75 L1606.96,612.75 Z" stroke="#000" stroke-width="2.2" fill="none" stroke-linejoin="round"/>
<line x1="1590.66" y1="632.2" x2="1614.66" y2="608.2" stroke="#333" stroke-width="0.9" stroke-linecap="butt"/>
<line x1="1596.66" y1="614.2" x2="1608.66" y2="626.2" stroke="#000" stroke-width="0.9" stroke-linecap="butt"/>
<line x1="1596.66" y1="626.2" x2="1608.66" y2="614.2" stroke="#000" stroke-width="0.9" stroke-linecap="butt"/>
<path d="M1613.35,634.51 L1611.35,632.22 L1609.44,629.86 L1607.62,627.44 L1605.87,624.95 L1604.22,622.4 L1602.66,619.8 L1601.18,617.14 L1599.8,614.44 L1598.52,611.69 L1597.34,608.89 L1596.25,606.06 L1595.26,603.18" stroke="#555" stroke-width="1" fill="none" stroke-linejoin="round"/>
<line x1="1359" y1="576.3" x2="2085" y2="576.3" stroke="#777" stroke-width="1.3" stroke-dasharray="60 6 20 6" stroke-linecap="butt"/>
<line x1="1678" y1="120" x2="1678" y2="880" stroke="#666" stroke-width="1.3" stroke-dasharray="60 6 20 6" stroke-linecap="butt"/>
<line x1="1693.5" y1="160.5" x2="1693.5" y2="305" stroke="#333" stroke-width="1" stroke-dasharray="30 6 4 6" stroke-linecap="butt"/>
<path d="M1536.6,178.4 L1536.6,171 Q1536.6,167.6 1540,167.6 L1845.5,167.6 Q1848.8,167.6 1848.8,171 L1848.8,178.4 Z" stroke="#000" stroke-width="2.2" fill="#fff" stroke-linejoin="round" />
<rect x="1549.6" y="160.5" width="15" height="7" rx="2" stroke="#000" stroke-width="1.6" fill="none"/>
<line x1="1554.6" y1="160.5" x2="1554.6" y2="167.5" stroke="#000" stroke-width="1" stroke-linecap="butt"/>
<line x1="1559.6" y1="160.5" x2="1559.6" y2="167.5" stroke="#000" stroke-width="1" stroke-linecap="butt"/>
<line x1="1557.1" y1="158" x2="1557.1" y2="178" stroke="#1a1a1a" stroke-width="1" stroke-linecap="butt"/>
<rect x="1820.8" y="160.5" width="15" height="7" rx="2" stroke="#000" stroke-width="1.6" fill="none"/>
<line x1="1825.8" y1="160.5" x2="1825.8" y2="167.5" stroke="#000" stroke-width="1" stroke-linecap="butt"/>
<line x1="1830.8" y1="160.5" x2="1830.8" y2="167.5" stroke="#000" stroke-width="1" stroke-linecap="butt"/>
<line x1="1828.3" y1="158" x2="1828.3" y2="178" stroke="#1a1a1a" stroke-width="1" stroke-linecap="butt"/>
<path d="M1545.6,178.4 L1553.3,293.3 L1558.4,298.6 L1833.5,298.6 L1841.1,293.3 L1840,178.4" stroke="#000" stroke-width="2.2" fill="none" stroke-linejoin="round"/>
<line x1="1553.3" y1="293.3" x2="1841.1" y2="293.3" stroke="#000" stroke-width="2" stroke-linecap="butt"/>
<line x1="1584" y1="300" x2="1770.8" y2="300" stroke="#000" stroke-width="1.8" stroke-linecap="butt"/>
<line x1="1585.3" y1="303.8" x2="1772" y2="303.8" stroke="#000" stroke-width="1.8" stroke-linecap="butt"/>
<path d="M1584,300 L1582.7,330 L1581.5,362" stroke="#000" stroke-width="2" fill="none" stroke-linejoin="round"/>
<path d="M1771,300 L1772.3,330 L1773.5,362" stroke="#000" stroke-width="2" fill="none" stroke-linejoin="round"/>
<rect x="1841.1" y="195" width="8.9" height="79" rx="0" stroke="#000" stroke-width="1.8" fill="none"/>
<rect x="1850" y="199.5" width="18" height="72" rx="0" stroke="#000" stroke-width="1.8" fill="none"/>
<rect x="1868" y="192.5" width="6.4" height="83" rx="0" stroke="#000" stroke-width="1.8" fill="none"/>
<rect x="1874.4" y="197.6" width="11.6" height="74.2" rx="3" stroke="#000" stroke-width="1.8" fill="none"/>
<line x1="1855" y1="199.5" x2="1855" y2="271.5" stroke="#000" stroke-width="1.1" stroke-linecap="butt"/>
<line x1="1861" y1="199.5" x2="1861" y2="271.5" stroke="#000" stroke-width="1.1" stroke-linecap="butt"/>
<line x1="1836" y1="234.2" x2="1888.5" y2="234.2" stroke="#1a1a1a" stroke-width="1" stroke-linecap="butt"/>
<line x1="1842" y1="213" x2="1850" y2="213" stroke="#000" stroke-width="1.8" stroke-linecap="butt"/>
<line x1="1868" y1="213" x2="1874" y2="213" stroke="#000" stroke-width="1.8" stroke-linecap="butt"/>
<line x1="1842" y1="254" x2="1850" y2="254" stroke="#000" stroke-width="1.8" stroke-linecap="butt"/>
<line x1="1868" y1="254" x2="1874" y2="254" stroke="#000" stroke-width="1.8" stroke-linecap="butt"/>
<path d="M1407,855.5 L1407,827 Q1407,819.8 1414,819.8 L1478.4,819.8 L1512.7,774.2" stroke="#000" stroke-width="2" fill="none" stroke-linejoin="round" />
<line x1="1424.2" y1="819.8" x2="1478.4" y2="725.7" stroke="#000" stroke-width="2" stroke-linecap="butt"/>
<path d="M1407,855.5 L1427,855.5 Q1428,845.5 1436,845.5 L1465,845.5 Q1472.7,845.5 1472.7,855.5 L1491.3,855.5 L1491.3,831.2 L1538.4,774.2" stroke="#000" stroke-width="2" fill="none" stroke-linejoin="round" />
<path d="M1947.8,855 L1947.8,827 Q1947.8,820.4 1941,820.4 L1877.6,820.4 L1841,773" stroke="#000" stroke-width="2" fill="none" stroke-linejoin="round" />
<line x1="1931" y1="819.5" x2="1877.6" y2="722.7" stroke="#000" stroke-width="2" stroke-linecap="butt"/>
<path d="M1947.8,854.5 L1928,854.5 Q1927,844.8 1919,844.8 L1890,844.8 Q1883.8,844.8 1883.8,854.5 L1862.4,854.5 L1862.4,829.5 L1816.6,773" stroke="#000" stroke-width="2" fill="none" stroke-linejoin="round" />
<line x1="1437" y1="819.8" x2="1437" y2="899.7" stroke="#000" stroke-width="1.6" stroke-linecap="butt"/>
<line x1="1462.8" y1="819.8" x2="1462.8" y2="899.7" stroke="#000" stroke-width="1.6" stroke-linecap="butt"/>
<line x1="1894.4" y1="819.8" x2="1894.4" y2="855" stroke="#000" stroke-width="1.6" stroke-linecap="butt"/>
<line x1="1918.8" y1="819.8" x2="1918.8" y2="855" stroke="#000" stroke-width="1.6" stroke-linecap="butt"/>
<line x1="1450" y1="800" x2="1450" y2="925.4" stroke="#000" stroke-width="1.6" stroke-linecap="butt"/>
<line x1="1906.6" y1="800" x2="1906.6" y2="925.6" stroke="#000" stroke-width="1.6" stroke-linecap="butt"/>
<rect x="1898" y="802.5" width="18" height="8.5" rx="0" stroke="#000" stroke-width="1.3" fill="none"/>
<line x1="1904" y1="802.5" x2="1904" y2="811" stroke="#000" stroke-width="1" stroke-linecap="butt"/>
<line x1="1910" y1="802.5" x2="1910" y2="811" stroke="#000" stroke-width="1" stroke-linecap="butt"/>
<rect x="1896" y="811" width="21" height="4" rx="0" stroke="#000" stroke-width="1.4" fill="none"/>
<line x1="1896" y1="816.5" x2="1917" y2="816.5" stroke="#000" stroke-width="1.6" stroke-linecap="butt"/>
<line x1="1437.5" y1="828" x2="1441.5" y2="824" stroke="#444" stroke-width="0.8" stroke-linecap="butt"/>
<line x1="1437.5" y1="833" x2="1441.5" y2="829" stroke="#444" stroke-width="0.8" stroke-linecap="butt"/>
<line x1="1437.5" y1="838" x2="1441.5" y2="834" stroke="#444" stroke-width="0.8" stroke-linecap="butt"/>
<line x1="1437.5" y1="843" x2="1441.5" y2="839" stroke="#444" stroke-width="0.8" stroke-linecap="butt"/>
<line x1="1437.5" y1="848" x2="1441.5" y2="844" stroke="#444" stroke-width="0.8" stroke-linecap="butt"/>
<line x1="1458.5" y1="828" x2="1462.5" y2="824" stroke="#444" stroke-width="0.8" stroke-linecap="butt"/>
<line x1="1458.5" y1="833" x2="1462.5" y2="829" stroke="#444" stroke-width="0.8" stroke-linecap="butt"/>
<line x1="1458.5" y1="838" x2="1462.5" y2="834" stroke="#444" stroke-width="0.8" stroke-linecap="butt"/>
<line x1="1458.5" y1="843" x2="1462.5" y2="839" stroke="#444" stroke-width="0.8" stroke-linecap="butt"/>
<line x1="1458.5" y1="848" x2="1462.5" y2="844" stroke="#444" stroke-width="0.8" stroke-linecap="butt"/>
<path d="M1952.8,484.3 L1962.7,474.5 L2033.5,474.5" stroke="#333" stroke-width="1.2" fill="none" stroke-dasharray="30 6" stroke-linejoin="round"/>
<line x1="1962.7" y1="496.1" x2="2033.5" y2="496.1" stroke="#333" stroke-width="1.2" stroke-dasharray="30 6" stroke-linecap="butt"/>
<path d="M1952.8,668 L1962.7,677 L2033.5,677" stroke="#333" stroke-width="1.2" fill="none" stroke-dasharray="30 6" stroke-linejoin="round"/>
<line x1="1962.7" y1="655" x2="2033.5" y2="655" stroke="#333" stroke-width="1.2" stroke-dasharray="30 6" stroke-linecap="butt"/>
<line x1="1952.8" y1="484.3" x2="1952.8" y2="668" stroke="#333" stroke-width="1.2" stroke-dasharray="30 6" stroke-linecap="butt"/>
<line x1="1962.7" y1="474.5" x2="1962.7" y2="700" stroke="#333" stroke-width="1.2" stroke-dasharray="30 6" stroke-linecap="butt"/>
<path d="M2033.5,474 L2033.5,466 Q2033.5,462 2037,462 L2040,462 Q2043.4,462 2043.4,466 L2043.4,707 Q2043.4,711 2040,711 L2037,711 Q2033.5,711 2033.5,707 L2033.5,700" stroke="#222" stroke-width="1.3" fill="none" stroke-linejoin="round" />
<line x1="2033.5" y1="474" x2="2033.5" y2="700" stroke="#333" stroke-width="1.2" stroke-dasharray="40 6" stroke-linecap="butt"/>
<rect x="2043.4" y="467" width="5.5" height="15" rx="2.5" stroke="#222" stroke-width="1.3" fill="none"/>
<rect x="2043.4" y="689.5" width="5.5" height="15" rx="2.5" stroke="#222" stroke-width="1.3" fill="none"/>
<path d="M2043.4,496 L2065,505.2" stroke="#333" stroke-width="1.2" fill="none" stroke-linejoin="round"/>
<path d="M2043.4,673.3 L2065,665.4" stroke="#333" stroke-width="1.2" fill="none" stroke-linejoin="round"/>
<line x1="2065" y1="576.9" x2="2065" y2="665" stroke="#333" stroke-width="1.2" stroke-dasharray="30 6" stroke-linecap="butt"/>
<rect x="1965" y="699" width="28" height="9" rx="0" stroke="#333" stroke-width="1.1" fill="none"/>
<rect x="1963" y="720" width="32" height="9" rx="0" stroke="#333" stroke-width="1.1" fill="none"/>
<path d="M1968,708 L1968,740 Q1968,746 1974,746 L1984,746 Q1990,746 1990,740" stroke="#333" stroke-width="1.1" fill="none" stroke-linejoin="round" />
<line x1="1976" y1="699" x2="1976" y2="729" stroke="#333" stroke-width="1" stroke-linecap="butt"/>
<line x1="1982" y1="699" x2="1982" y2="729" stroke="#333" stroke-width="1" stroke-linecap="butt"/>
<rect x="2003" y="699" width="28" height="9" rx="0" stroke="#333" stroke-width="1.1" fill="none"/>
<rect x="2001" y="720" width="32" height="9" rx="0" stroke="#333" stroke-width="1.1" fill="none"/>
<path d="M2006,708 L2006,740 Q2006,746 2012,746 L2022,746 Q2028,746 2028,740" stroke="#333" stroke-width="1.1" fill="none" stroke-linejoin="round" />
<line x1="2014" y1="699" x2="2014" y2="729" stroke="#333" stroke-width="1" stroke-linecap="butt"/>
<line x1="2020" y1="699" x2="2020" y2="729" stroke="#333" stroke-width="1" stroke-linecap="butt"/>
<line x1="1998" y1="695" x2="1998" y2="750" stroke="#333" stroke-width="1" stroke-dasharray="20 5" stroke-linecap="butt"/>
<g transform="translate(1917,438.5) rotate(-58)"><rect x="-14" y="-3.2" width="28" height="6.4" fill="#fff" stroke="#000" stroke-width="1.1"/><line x1="-10" y1="-3.2" x2="-10" y2="3.2" stroke="#000" stroke-width="0.8"/><line x1="10" y1="-3.2" x2="10" y2="3.2" stroke="#000" stroke-width="0.8"/></g>
<line x1="1404.7" y1="61.5" x2="1404.7" y2="600" stroke="#000" stroke-width="1.8" stroke-linecap="butt"/>
<line x1="1951" y1="61.5" x2="1951" y2="484" stroke="#000" stroke-width="1.8" stroke-linecap="butt"/>
<line x1="1404.7" y1="72.8" x2="1951" y2="72.8" stroke="#000" stroke-width="1.8" stroke-linecap="butt"/>
<path d="M1405.2,72.2 L1405.2,72.2 L1408.7,71.5 L1410.7,70.3 L1418.7,70.3 L1418.7,75.3 L1410.7,75.3 L1408.7,74.1 L1405.2,73.4 L1405.2,73.4 Z" stroke="#000" stroke-width="0.5" fill="#000" stroke-linejoin="round"/>
<path d="M1950.5,72.2 L1950.5,72.2 L1947,71.5 L1945,70.3 L1937,70.3 L1937,75.3 L1945,75.3 L1947,74.1 L1950.5,73.4 L1950.5,73.4 Z" stroke="#000" stroke-width="0.5" fill="#000" stroke-linejoin="round"/>
<line x1="2065" y1="119.6" x2="2065" y2="576.9" stroke="#000" stroke-width="1.8" stroke-linecap="butt"/>
<line x1="1678.8" y1="131.9" x2="2065" y2="131.9" stroke="#000" stroke-width="1.8" stroke-linecap="butt"/>
<line x1="1678.8" y1="119.6" x2="1678.8" y2="140" stroke="#000" stroke-width="1.8" stroke-linecap="butt"/>
<path d="M1679.3,131.3 L1679.3,131.3 L1682.8,130.6 L1684.8,129.4 L1692.8,129.4 L1692.8,134.4 L1684.8,134.4 L1682.8,133.2 L1679.3,132.5 L1679.3,132.5 Z" stroke="#000" stroke-width="0.5" fill="#000" stroke-linejoin="round"/>
<path d="M2064.5,131.3 L2064.5,131.3 L2061,130.6 L2059,129.4 L2051,129.4 L2051,134.4 L2059,134.4 L2061,133.2 L2064.5,132.5 L2064.5,132.5 Z" stroke="#000" stroke-width="0.5" fill="#000" stroke-linejoin="round"/>
<line x1="1307" y1="160.5" x2="1565.6" y2="160.5" stroke="#000" stroke-width="1.8" stroke-linecap="butt"/>
<line x1="1318.2" y1="160.5" x2="1318.2" y2="855.5" stroke="#000" stroke-width="1.8" stroke-linecap="butt"/>
<path d="M1317.6,161 L1317.6,161 L1316.9,164.5 L1315.7,166.5 L1315.7,174.5 L1320.7,174.5 L1320.7,166.5 L1319.5,164.5 L1318.8,161 L1318.8,161 Z" stroke="#000" stroke-width="0.5" fill="#000" stroke-linejoin="round"/>
<path d="M1317.6,855 L1317.6,855 L1316.9,851.5 L1315.7,849.5 L1315.7,841.5 L1320.7,841.5 L1320.7,849.5 L1319.5,851.5 L1318.8,855 L1318.8,855 Z" stroke="#000" stroke-width="0.5" fill="#000" stroke-linejoin="round"/>
<line x1="1359" y1="576.3" x2="1405" y2="576.3" stroke="#000" stroke-width="1.8" stroke-linecap="butt"/>
<line x1="1370.1" y1="576.3" x2="1370.1" y2="855.5" stroke="#000" stroke-width="1.8" stroke-linecap="butt"/>
<path d="M1369.5,576.8 L1369.5,576.8 L1368.8,580.3 L1367.6,582.3 L1367.6,590.3 L1372.6,590.3 L1372.6,582.3 L1371.4,580.3 L1370.7,576.8 L1370.7,576.8 Z" stroke="#000" stroke-width="0.5" fill="#000" stroke-linejoin="round"/>
<path d="M1369.5,855 L1369.5,855 L1368.8,851.5 L1367.6,849.5 L1367.6,841.5 L1372.6,841.5 L1372.6,849.5 L1371.4,851.5 L1370.7,855 L1370.7,855 Z" stroke="#000" stroke-width="0.5" fill="#000" stroke-linejoin="round"/>
<line x1="1307" y1="855.5" x2="1427" y2="855.5" stroke="#000" stroke-width="1.8" stroke-linecap="butt"/>
<line x1="1407" y1="855.5" x2="1407" y2="975.3" stroke="#000" stroke-width="1.8" stroke-linecap="butt"/>
<line x1="1947.8" y1="855" x2="1947.8" y2="977.5" stroke="#000" stroke-width="1.8" stroke-linecap="butt"/>
<line x1="1407" y1="966" x2="1947.8" y2="966" stroke="#000" stroke-width="1.8" stroke-linecap="butt"/>
<path d="M1407.5,965.4 L1407.5,965.4 L1411,964.7 L1413,963.5 L1421,963.5 L1421,968.5 L1413,968.5 L1411,967.3 L1407.5,966.6 L1407.5,966.6 Z" stroke="#000" stroke-width="0.5" fill="#000" stroke-linejoin="round"/>
<path d="M1947.3,965.4 L1947.3,965.4 L1943.8,964.7 L1941.8,963.5 L1933.8,963.5 L1933.8,968.5 L1941.8,968.5 L1943.8,967.3 L1947.3,966.6 L1947.3,966.6 Z" stroke="#000" stroke-width="0.5" fill="#000" stroke-linejoin="round"/>
<line x1="1450" y1="914.8" x2="1906.6" y2="914.8" stroke="#000" stroke-width="1.8" stroke-linecap="butt"/>
<path d="M1450.5,914.2 L1450.5,914.2 L1454,913.5 L1456,912.3 L1464,912.3 L1464,917.3 L1456,917.3 L1454,916.1 L1450.5,915.4 L1450.5,915.4 Z" stroke="#000" stroke-width="0.5" fill="#000" stroke-linejoin="round"/>
<path d="M1906.1,914.2 L1906.1,914.2 L1902.6,913.5 L1900.6,912.3 L1892.6,912.3 L1892.6,917.3 L1900.6,917.3 L1902.6,916.1 L1906.1,915.4 L1906.1,915.4 Z" stroke="#000" stroke-width="0.5" fill="#000" stroke-linejoin="round"/>
<line x1="1410" y1="888.3" x2="1569.7" y2="888.3" stroke="#000" stroke-width="1.8" stroke-linecap="butt"/>
<path d="M1436.5,887.7 L1436.5,887.7 L1433,887 L1431,885.8 L1423,885.8 L1423,890.8 L1431,890.8 L1433,889.6 L1436.5,888.9 L1436.5,888.9 Z" stroke="#000" stroke-width="0.5" fill="#000" stroke-linejoin="round"/>
<path d="M1463.3,887.7 L1463.3,887.7 L1466.8,887 L1468.8,885.8 L1476.8,885.8 L1476.8,890.8 L1468.8,890.8 L1466.8,889.6 L1463.3,888.9 L1463.3,888.9 Z" stroke="#000" stroke-width="0.5" fill="#000" stroke-linejoin="round"/>
<g transform="translate(1658.6,29.8)" fill="none" stroke="#000" stroke-width="1.7" stroke-linejoin="round"><path d="M0,1 L0.5,0 L1,1 M0.19,0.62 L0.81,0.62" transform="translate(0,0) scale(19,38.6)" vector-effect="non-scaling-stroke"/><path d="M1,0.22 C0.97,0.06 0.8,0 0.55,0 C0.15,0 0,0.25 0,0.5 C0,0.78 0.15,1 0.52,1 C0.8,1 0.97,0.92 1,0.76" transform="translate(21,0) scale(19,38.6)" vector-effect="non-scaling-stroke"/></g>
<g transform="translate(1851.6,88.6)" fill="none" stroke="#000" stroke-width="1.7" stroke-linejoin="round"><path d="M0,1 L0.5,0 L1,1 M0.19,0.62 L0.81,0.62" transform="translate(0,0) scale(19.5,39)" vector-effect="non-scaling-stroke"/><path d="M0,0 L0,1 L0.45,1 C0.85,1 1,0.8 1,0.5 C1,0.2 0.85,0 0.45,0 Z" transform="translate(22.5,0) scale(19.5,39)" vector-effect="non-scaling-stroke"/></g>
<g transform="translate(1668.5,872.3)" fill="none" stroke="#000" stroke-width="1.7" stroke-linejoin="round"><path d="M0,1 L0.5,0 L1,1 M0.19,0.62 L0.81,0.62" transform="translate(0,0) scale(19.8,38.3)" vector-effect="non-scaling-stroke"/></g>
<g transform="translate(1658.2,922.8)" fill="none" stroke="#000" stroke-width="1.7" stroke-linejoin="round"><path d="M0,1 L0.5,0 L1,1 M0.19,0.62 L0.81,0.62" transform="translate(0,0) scale(19.2,39)" vector-effect="non-scaling-stroke"/><path d="M0,1 L0,0 L0.55,0 C0.85,0 0.95,0.1 0.95,0.24 C0.95,0.38 0.85,0.47 0.55,0.47 L0,0.47 M0.55,0.47 C0.9,0.47 1,0.6 1,0.74 C1,0.9 0.9,1 0.55,1 L0,1" transform="translate(23.2,0) scale(19.2,39)" vector-effect="non-scaling-stroke"/></g>
<g transform="translate(1494.1,845.8)" fill="none" stroke="#000" stroke-width="1.7" stroke-linejoin="round"><path d="M0.75,1 L0.75,0 L0,0.68 L1,0.68" transform="translate(0,0) scale(19.5,39)" vector-effect="non-scaling-stroke"/><path d="M0,0.55 L1,0.55" transform="translate(25,0) scale(19.5,39)" vector-effect="non-scaling-stroke"/><path d="M0,0 L0,1 M1,0 L0,0.66 M0.28,0.48 L1,1" transform="translate(50,0) scale(19.5,39)" vector-effect="non-scaling-stroke"/></g>
<g transform="translate(1271.8,533) rotate(-90)" fill="none" stroke="#000" stroke-width="1.7" stroke-linejoin="round"><path d="M0,0 L0,1 M1,0 L1,1 M0,0.5 L1,0.5" transform="translate(0,0) scale(16,40)" vector-effect="non-scaling-stroke"/><path d="M0,0 L0,1 L0.45,1 C0.85,1 1,0.8 1,0.5 C1,0.2 0.85,0 0.45,0 Z" transform="translate(24,0) scale(16,40)" vector-effect="non-scaling-stroke"/></g>
<line x1="1265" y1="484" x2="1276" y2="482" stroke="#000" stroke-width="2.2" stroke-linecap="butt"/>
<g transform="translate(1328,723) rotate(-90)" fill="none" stroke="#000" stroke-width="1.7" stroke-linejoin="round"><path d="M0,0 L0,1 M1,0 L1,1 M0,0.5 L1,0.5" transform="translate(0,0) scale(15.3,38.3)" vector-effect="non-scaling-stroke"/></g></svg>
</body></html>
